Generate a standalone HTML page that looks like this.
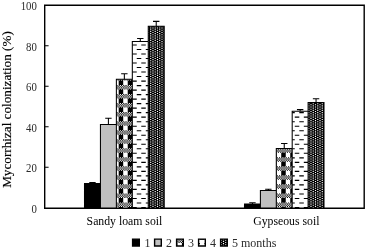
<!DOCTYPE html>
<html><head><meta charset="utf-8">
<style>
html,body{margin:0;padding:0;background:#fff;}
body{width:365px;height:249px;overflow:hidden;position:relative;}
svg{position:absolute;left:0;top:0;filter:grayscale(1);}
text{font-family:"Liberation Serif",serif;}
</style></head>
<body>
<svg width="365" height="249" viewBox="0 0 365 249">
<rect width="365" height="249" fill="#fff"/>
<rect x="84.5" y="183.55" width="15.94" height="24.65" fill="#000"/>
<rect x="100.44" y="124.4" width="15.94" height="83.8" fill="#c0c0c0"/>
<rect x="116.38" y="79.25" width="15.94" height="128.95" fill="#fff"/><path fill="#000" d="M116.43 79.25H117.56V79.38H116.43zM116.38 79.38H116.43V80.5H116.38zM117.56 79.38H118.69V80.5H117.56zM118.69 79.25H119.82V79.38H118.69zM120.95 79.25H122.08V79.38H120.95zM123.2 79.25H124.33V79.38H123.2zM125.46 79.25H126.59V79.38H125.46zM119.82 79.38H120.95V85.02H119.82zM122.08 79.38H123.2V85.02H122.08zM124.33 79.38H125.46V80.5H124.33zM126.59 79.38H127.72V80.5H126.59zM118.69 80.5H119.82V85.02H118.69zM120.95 80.5H122.08V85.02H120.95zM127.72 79.25H128.85V79.38H127.72zM129.98 79.25H131.11V79.38H129.98zM132.24 79.25H132.32V79.38H132.24zM128.85 79.38H129.98V85.02H128.85zM131.11 79.38H132.24V85.02H131.11zM127.72 80.5H128.85V85.02H127.72zM129.98 80.5H131.11V85.02H129.98zM116.43 85.02H117.56V86.15H116.43zM116.38 86.15H116.43V87.28H116.38zM117.56 86.15H118.69V87.28H117.56zM116.43 87.28H117.56V88.41H116.43zM116.38 88.41H116.43V89.53H116.38zM117.56 88.41H118.69V89.53H117.56zM118.69 85.02H119.82V86.15H118.69zM120.95 85.02H122.08V86.15H120.95zM123.2 85.02H124.33V86.15H123.2zM125.46 85.02H126.59V86.15H125.46zM119.82 86.15H120.95V87.28H119.82zM122.08 86.15H123.2V87.28H122.08zM124.33 86.15H125.46V87.28H124.33zM126.59 86.15H127.72V87.28H126.59zM118.69 87.28H119.82V88.41H118.69zM120.95 87.28H122.08V88.41H120.95zM123.2 87.28H124.33V88.41H123.2zM125.46 87.28H126.59V88.41H125.46zM119.82 88.41H120.95V94.05H119.82zM122.08 88.41H123.2V94.05H122.08zM124.33 88.41H125.46V89.53H124.33zM126.59 88.41H127.72V89.53H126.59zM118.69 89.53H119.82V94.05H118.69zM120.95 89.53H122.08V94.05H120.95zM127.72 85.02H128.85V86.15H127.72zM129.98 85.02H131.11V86.15H129.98zM132.24 85.02H132.32V86.15H132.24zM128.85 86.15H129.98V87.28H128.85zM131.11 86.15H132.24V87.28H131.11zM127.72 87.28H128.85V88.41H127.72zM129.98 87.28H131.11V88.41H129.98zM132.24 87.28H132.32V88.41H132.24zM128.85 88.41H129.98V94.05H128.85zM131.11 88.41H132.24V94.05H131.11zM127.72 89.53H128.85V94.05H127.72zM129.98 89.53H131.11V94.05H129.98zM116.43 94.05H117.56V95.18H116.43zM116.38 95.18H116.43V96.31H116.38zM117.56 95.18H118.69V96.31H117.56zM116.43 96.31H117.56V97.44H116.43zM116.38 97.44H116.43V98.56H116.38zM117.56 97.44H118.69V98.56H117.56zM118.69 94.05H119.82V95.18H118.69zM120.95 94.05H122.08V95.18H120.95zM123.2 94.05H124.33V95.18H123.2zM125.46 94.05H126.59V95.18H125.46zM119.82 95.18H120.95V96.31H119.82zM122.08 95.18H123.2V96.31H122.08zM124.33 95.18H125.46V96.31H124.33zM126.59 95.18H127.72V96.31H126.59zM118.69 96.31H119.82V97.44H118.69zM120.95 96.31H122.08V97.44H120.95zM123.2 96.31H124.33V97.44H123.2zM125.46 96.31H126.59V97.44H125.46zM119.82 97.44H120.95V103.08H119.82zM122.08 97.44H123.2V103.08H122.08zM124.33 97.44H125.46V98.56H124.33zM126.59 97.44H127.72V98.56H126.59zM118.69 98.56H119.82V103.08H118.69zM120.95 98.56H122.08V103.08H120.95zM127.72 94.05H128.85V95.18H127.72zM129.98 94.05H131.11V95.18H129.98zM132.24 94.05H132.32V95.18H132.24zM128.85 95.18H129.98V96.31H128.85zM131.11 95.18H132.24V96.31H131.11zM127.72 96.31H128.85V97.44H127.72zM129.98 96.31H131.11V97.44H129.98zM132.24 96.31H132.32V97.44H132.24zM128.85 97.44H129.98V103.08H128.85zM131.11 97.44H132.24V103.08H131.11zM127.72 98.56H128.85V103.08H127.72zM129.98 98.56H131.11V103.08H129.98zM116.43 103.08H117.56V104.21H116.43zM116.38 104.21H116.43V105.34H116.38zM117.56 104.21H118.69V105.34H117.56zM116.43 105.34H117.56V106.47H116.43zM116.38 106.47H116.43V107.59H116.38zM117.56 106.47H118.69V107.59H117.56zM118.69 103.08H119.82V104.21H118.69zM120.95 103.08H122.08V104.21H120.95zM123.2 103.08H124.33V104.21H123.2zM125.46 103.08H126.59V104.21H125.46zM119.82 104.21H120.95V105.34H119.82zM122.08 104.21H123.2V105.34H122.08zM124.33 104.21H125.46V105.34H124.33zM126.59 104.21H127.72V105.34H126.59zM118.69 105.34H119.82V106.47H118.69zM120.95 105.34H122.08V106.47H120.95zM123.2 105.34H124.33V106.47H123.2zM125.46 105.34H126.59V106.47H125.46zM119.82 106.47H120.95V112.11H119.82zM122.08 106.47H123.2V112.11H122.08zM124.33 106.47H125.46V107.59H124.33zM126.59 106.47H127.72V107.59H126.59zM118.69 107.59H119.82V112.11H118.69zM120.95 107.59H122.08V112.11H120.95zM127.72 103.08H128.85V104.21H127.72zM129.98 103.08H131.11V104.21H129.98zM132.24 103.08H132.32V104.21H132.24zM128.85 104.21H129.98V105.34H128.85zM131.11 104.21H132.24V105.34H131.11zM127.72 105.34H128.85V106.47H127.72zM129.98 105.34H131.11V106.47H129.98zM132.24 105.34H132.32V106.47H132.24zM128.85 106.47H129.98V112.11H128.85zM131.11 106.47H132.24V112.11H131.11zM127.72 107.59H128.85V112.11H127.72zM129.98 107.59H131.11V112.11H129.98zM116.43 112.11H117.56V113.24H116.43zM116.38 113.24H116.43V114.37H116.38zM117.56 113.24H118.69V114.37H117.56zM116.43 114.37H117.56V115.5H116.43zM116.38 115.5H116.43V116.62H116.38zM117.56 115.5H118.69V116.62H117.56zM118.69 112.11H119.82V113.24H118.69zM120.95 112.11H122.08V113.24H120.95zM123.2 112.11H124.33V113.24H123.2zM125.46 112.11H126.59V113.24H125.46zM119.82 113.24H120.95V114.37H119.82zM122.08 113.24H123.2V114.37H122.08zM124.33 113.24H125.46V114.37H124.33zM126.59 113.24H127.72V114.37H126.59zM118.69 114.37H119.82V115.5H118.69zM120.95 114.37H122.08V115.5H120.95zM123.2 114.37H124.33V115.5H123.2zM125.46 114.37H126.59V115.5H125.46zM119.82 115.5H120.95V121.14H119.82zM122.08 115.5H123.2V121.14H122.08zM124.33 115.5H125.46V116.62H124.33zM126.59 115.5H127.72V116.62H126.59zM118.69 116.62H119.82V121.14H118.69zM120.95 116.62H122.08V121.14H120.95zM127.72 112.11H128.85V113.24H127.72zM129.98 112.11H131.11V113.24H129.98zM132.24 112.11H132.32V113.24H132.24zM128.85 113.24H129.98V114.37H128.85zM131.11 113.24H132.24V114.37H131.11zM127.72 114.37H128.85V115.5H127.72zM129.98 114.37H131.11V115.5H129.98zM132.24 114.37H132.32V115.5H132.24zM128.85 115.5H129.98V121.14H128.85zM131.11 115.5H132.24V121.14H131.11zM127.72 116.62H128.85V121.14H127.72zM129.98 116.62H131.11V121.14H129.98zM116.43 121.14H117.56V122.27H116.43zM116.38 122.27H116.43V123.4H116.38zM117.56 122.27H118.69V123.4H117.56zM116.43 123.4H117.56V124.53H116.43zM116.38 124.53H116.43V125.65H116.38zM117.56 124.53H118.69V125.65H117.56zM118.69 121.14H119.82V122.27H118.69zM120.95 121.14H122.08V122.27H120.95zM123.2 121.14H124.33V122.27H123.2zM125.46 121.14H126.59V122.27H125.46zM119.82 122.27H120.95V123.4H119.82zM122.08 122.27H123.2V123.4H122.08zM124.33 122.27H125.46V123.4H124.33zM126.59 122.27H127.72V123.4H126.59zM118.69 123.4H119.82V124.53H118.69zM120.95 123.4H122.08V124.53H120.95zM123.2 123.4H124.33V124.53H123.2zM125.46 123.4H126.59V124.53H125.46zM119.82 124.53H120.95V130.17H119.82zM122.08 124.53H123.2V130.17H122.08zM124.33 124.53H125.46V125.65H124.33zM126.59 124.53H127.72V125.65H126.59zM118.69 125.65H119.82V130.17H118.69zM120.95 125.65H122.08V130.17H120.95zM127.72 121.14H128.85V122.27H127.72zM129.98 121.14H131.11V122.27H129.98zM132.24 121.14H132.32V122.27H132.24zM128.85 122.27H129.98V123.4H128.85zM131.11 122.27H132.24V123.4H131.11zM127.72 123.4H128.85V124.53H127.72zM129.98 123.4H131.11V124.53H129.98zM132.24 123.4H132.32V124.53H132.24zM128.85 124.53H129.98V130.17H128.85zM131.11 124.53H132.24V130.17H131.11zM127.72 125.65H128.85V130.17H127.72zM129.98 125.65H131.11V130.17H129.98zM116.43 130.17H117.56V131.3H116.43zM116.38 131.3H116.43V132.43H116.38zM117.56 131.3H118.69V132.43H117.56zM116.43 132.43H117.56V133.56H116.43zM116.38 133.56H116.43V134.69H116.38zM117.56 133.56H118.69V134.69H117.56zM118.69 130.17H119.82V131.3H118.69zM120.95 130.17H122.08V131.3H120.95zM123.2 130.17H124.33V131.3H123.2zM125.46 130.17H126.59V131.3H125.46zM119.82 131.3H120.95V132.43H119.82zM122.08 131.3H123.2V132.43H122.08zM124.33 131.3H125.46V132.43H124.33zM126.59 131.3H127.72V132.43H126.59zM118.69 132.43H119.82V133.56H118.69zM120.95 132.43H122.08V133.56H120.95zM123.2 132.43H124.33V133.56H123.2zM125.46 132.43H126.59V133.56H125.46zM119.82 133.56H120.95V139.2H119.82zM122.08 133.56H123.2V139.2H122.08zM124.33 133.56H125.46V134.69H124.33zM126.59 133.56H127.72V134.69H126.59zM118.69 134.69H119.82V139.2H118.69zM120.95 134.69H122.08V139.2H120.95zM127.72 130.17H128.85V131.3H127.72zM129.98 130.17H131.11V131.3H129.98zM132.24 130.17H132.32V131.3H132.24zM128.85 131.3H129.98V132.43H128.85zM131.11 131.3H132.24V132.43H131.11zM127.72 132.43H128.85V133.56H127.72zM129.98 132.43H131.11V133.56H129.98zM132.24 132.43H132.32V133.56H132.24zM128.85 133.56H129.98V139.2H128.85zM131.11 133.56H132.24V139.2H131.11zM127.72 134.69H128.85V139.2H127.72zM129.98 134.69H131.11V139.2H129.98zM116.43 139.2H117.56V140.33H116.43zM116.38 140.33H116.43V141.46H116.38zM117.56 140.33H118.69V141.46H117.56zM116.43 141.46H117.56V142.59H116.43zM116.38 142.59H116.43V143.72H116.38zM117.56 142.59H118.69V143.72H117.56zM118.69 139.2H119.82V140.33H118.69zM120.95 139.2H122.08V140.33H120.95zM123.2 139.2H124.33V140.33H123.2zM125.46 139.2H126.59V140.33H125.46zM119.82 140.33H120.95V141.46H119.82zM122.08 140.33H123.2V141.46H122.08zM124.33 140.33H125.46V141.46H124.33zM126.59 140.33H127.72V141.46H126.59zM118.69 141.46H119.82V142.59H118.69zM120.95 141.46H122.08V142.59H120.95zM123.2 141.46H124.33V142.59H123.2zM125.46 141.46H126.59V142.59H125.46zM119.82 142.59H120.95V148.23H119.82zM122.08 142.59H123.2V148.23H122.08zM124.33 142.59H125.46V143.72H124.33zM126.59 142.59H127.72V143.72H126.59zM118.69 143.72H119.82V148.23H118.69zM120.95 143.72H122.08V148.23H120.95zM127.72 139.2H128.85V140.33H127.72zM129.98 139.2H131.11V140.33H129.98zM132.24 139.2H132.32V140.33H132.24zM128.85 140.33H129.98V141.46H128.85zM131.11 140.33H132.24V141.46H131.11zM127.72 141.46H128.85V142.59H127.72zM129.98 141.46H131.11V142.59H129.98zM132.24 141.46H132.32V142.59H132.24zM128.85 142.59H129.98V148.23H128.85zM131.11 142.59H132.24V148.23H131.11zM127.72 143.72H128.85V148.23H127.72zM129.98 143.72H131.11V148.23H129.98zM116.43 148.23H117.56V149.36H116.43zM116.38 149.36H116.43V150.49H116.38zM117.56 149.36H118.69V150.49H117.56zM116.43 150.49H117.56V151.62H116.43zM116.38 151.62H116.43V152.74H116.38zM117.56 151.62H118.69V152.74H117.56zM118.69 148.23H119.82V149.36H118.69zM120.95 148.23H122.08V149.36H120.95zM123.2 148.23H124.33V149.36H123.2zM125.46 148.23H126.59V149.36H125.46zM119.82 149.36H120.95V150.49H119.82zM122.08 149.36H123.2V150.49H122.08zM124.33 149.36H125.46V150.49H124.33zM126.59 149.36H127.72V150.49H126.59zM118.69 150.49H119.82V151.62H118.69zM120.95 150.49H122.08V151.62H120.95zM123.2 150.49H124.33V151.62H123.2zM125.46 150.49H126.59V151.62H125.46zM119.82 151.62H120.95V157.26H119.82zM122.08 151.62H123.2V157.26H122.08zM124.33 151.62H125.46V152.74H124.33zM126.59 151.62H127.72V152.74H126.59zM118.69 152.74H119.82V157.26H118.69zM120.95 152.74H122.08V157.26H120.95zM127.72 148.23H128.85V149.36H127.72zM129.98 148.23H131.11V149.36H129.98zM132.24 148.23H132.32V149.36H132.24zM128.85 149.36H129.98V150.49H128.85zM131.11 149.36H132.24V150.49H131.11zM127.72 150.49H128.85V151.62H127.72zM129.98 150.49H131.11V151.62H129.98zM132.24 150.49H132.32V151.62H132.24zM128.85 151.62H129.98V157.26H128.85zM131.11 151.62H132.24V157.26H131.11zM127.72 152.74H128.85V157.26H127.72zM129.98 152.74H131.11V157.26H129.98zM116.43 157.26H117.56V158.39H116.43zM116.38 158.39H116.43V159.52H116.38zM117.56 158.39H118.69V159.52H117.56zM116.43 159.52H117.56V160.65H116.43zM116.38 160.65H116.43V161.77H116.38zM117.56 160.65H118.69V161.77H117.56zM118.69 157.26H119.82V158.39H118.69zM120.95 157.26H122.08V158.39H120.95zM123.2 157.26H124.33V158.39H123.2zM125.46 157.26H126.59V158.39H125.46zM119.82 158.39H120.95V159.52H119.82zM122.08 158.39H123.2V159.52H122.08zM124.33 158.39H125.46V159.52H124.33zM126.59 158.39H127.72V159.52H126.59zM118.69 159.52H119.82V160.65H118.69zM120.95 159.52H122.08V160.65H120.95zM123.2 159.52H124.33V160.65H123.2zM125.46 159.52H126.59V160.65H125.46zM119.82 160.65H120.95V166.29H119.82zM122.08 160.65H123.2V166.29H122.08zM124.33 160.65H125.46V161.77H124.33zM126.59 160.65H127.72V161.77H126.59zM118.69 161.77H119.82V166.29H118.69zM120.95 161.77H122.08V166.29H120.95zM127.72 157.26H128.85V158.39H127.72zM129.98 157.26H131.11V158.39H129.98zM132.24 157.26H132.32V158.39H132.24zM128.85 158.39H129.98V159.52H128.85zM131.11 158.39H132.24V159.52H131.11zM127.72 159.52H128.85V160.65H127.72zM129.98 159.52H131.11V160.65H129.98zM132.24 159.52H132.32V160.65H132.24zM128.85 160.65H129.98V166.29H128.85zM131.11 160.65H132.24V166.29H131.11zM127.72 161.77H128.85V166.29H127.72zM129.98 161.77H131.11V166.29H129.98zM116.43 166.29H117.56V167.42H116.43zM116.38 167.42H116.43V168.55H116.38zM117.56 167.42H118.69V168.55H117.56zM116.43 168.55H117.56V169.68H116.43zM116.38 169.68H116.43V170.8H116.38zM117.56 169.68H118.69V170.8H117.56zM118.69 166.29H119.82V167.42H118.69zM120.95 166.29H122.08V167.42H120.95zM123.2 166.29H124.33V167.42H123.2zM125.46 166.29H126.59V167.42H125.46zM119.82 167.42H120.95V168.55H119.82zM122.08 167.42H123.2V168.55H122.08zM124.33 167.42H125.46V168.55H124.33zM126.59 167.42H127.72V168.55H126.59zM118.69 168.55H119.82V169.68H118.69zM120.95 168.55H122.08V169.68H120.95zM123.2 168.55H124.33V169.68H123.2zM125.46 168.55H126.59V169.68H125.46zM119.82 169.68H120.95V175.32H119.82zM122.08 169.68H123.2V175.32H122.08zM124.33 169.68H125.46V170.8H124.33zM126.59 169.68H127.72V170.8H126.59zM118.69 170.8H119.82V175.32H118.69zM120.95 170.8H122.08V175.32H120.95zM127.72 166.29H128.85V167.42H127.72zM129.98 166.29H131.11V167.42H129.98zM132.24 166.29H132.32V167.42H132.24zM128.85 167.42H129.98V168.55H128.85zM131.11 167.42H132.24V168.55H131.11zM127.72 168.55H128.85V169.68H127.72zM129.98 168.55H131.11V169.68H129.98zM132.24 168.55H132.32V169.68H132.24zM128.85 169.68H129.98V175.32H128.85zM131.11 169.68H132.24V175.32H131.11zM127.72 170.8H128.85V175.32H127.72zM129.98 170.8H131.11V175.32H129.98zM116.43 175.32H117.56V176.45H116.43zM116.38 176.45H116.43V177.58H116.38zM117.56 176.45H118.69V177.58H117.56zM116.43 177.58H117.56V178.71H116.43zM116.38 178.71H116.43V179.83H116.38zM117.56 178.71H118.69V179.83H117.56zM118.69 175.32H119.82V176.45H118.69zM120.95 175.32H122.08V176.45H120.95zM123.2 175.32H124.33V176.45H123.2zM125.46 175.32H126.59V176.45H125.46zM119.82 176.45H120.95V177.58H119.82zM122.08 176.45H123.2V177.58H122.08zM124.33 176.45H125.46V177.58H124.33zM126.59 176.45H127.72V177.58H126.59zM118.69 177.58H119.82V178.71H118.69zM120.95 177.58H122.08V178.71H120.95zM123.2 177.58H124.33V178.71H123.2zM125.46 177.58H126.59V178.71H125.46zM119.82 178.71H120.95V184.35H119.82zM122.08 178.71H123.2V184.35H122.08zM124.33 178.71H125.46V179.83H124.33zM126.59 178.71H127.72V179.83H126.59zM118.69 179.83H119.82V184.35H118.69zM120.95 179.83H122.08V184.35H120.95zM127.72 175.32H128.85V176.45H127.72zM129.98 175.32H131.11V176.45H129.98zM132.24 175.32H132.32V176.45H132.24zM128.85 176.45H129.98V177.58H128.85zM131.11 176.45H132.24V177.58H131.11zM127.72 177.58H128.85V178.71H127.72zM129.98 177.58H131.11V178.71H129.98zM132.24 177.58H132.32V178.71H132.24zM128.85 178.71H129.98V184.35H128.85zM131.11 178.71H132.24V184.35H131.11zM127.72 179.83H128.85V184.35H127.72zM129.98 179.83H131.11V184.35H129.98zM116.43 184.35H117.56V185.48H116.43zM116.38 185.48H116.43V186.61H116.38zM117.56 185.48H118.69V186.61H117.56zM116.43 186.61H117.56V187.74H116.43zM116.38 187.74H116.43V188.86H116.38zM117.56 187.74H118.69V188.86H117.56zM118.69 184.35H119.82V185.48H118.69zM120.95 184.35H122.08V185.48H120.95zM123.2 184.35H124.33V185.48H123.2zM125.46 184.35H126.59V185.48H125.46zM119.82 185.48H120.95V186.61H119.82zM122.08 185.48H123.2V186.61H122.08zM124.33 185.48H125.46V186.61H124.33zM126.59 185.48H127.72V186.61H126.59zM118.69 186.61H119.82V187.74H118.69zM120.95 186.61H122.08V187.74H120.95zM123.2 186.61H124.33V187.74H123.2zM125.46 186.61H126.59V187.74H125.46zM119.82 187.74H120.95V193.38H119.82zM122.08 187.74H123.2V193.38H122.08zM124.33 187.74H125.46V188.86H124.33zM126.59 187.74H127.72V188.86H126.59zM118.69 188.86H119.82V193.38H118.69zM120.95 188.86H122.08V193.38H120.95zM127.72 184.35H128.85V185.48H127.72zM129.98 184.35H131.11V185.48H129.98zM132.24 184.35H132.32V185.48H132.24zM128.85 185.48H129.98V186.61H128.85zM131.11 185.48H132.24V186.61H131.11zM127.72 186.61H128.85V187.74H127.72zM129.98 186.61H131.11V187.74H129.98zM132.24 186.61H132.32V187.74H132.24zM128.85 187.74H129.98V193.38H128.85zM131.11 187.74H132.24V193.38H131.11zM127.72 188.86H128.85V193.38H127.72zM129.98 188.86H131.11V193.38H129.98zM116.43 193.38H117.56V194.51H116.43zM116.38 194.51H116.43V195.64H116.38zM117.56 194.51H118.69V195.64H117.56zM116.43 195.64H117.56V196.77H116.43zM116.38 196.77H116.43V197.89H116.38zM117.56 196.77H118.69V197.89H117.56zM118.69 193.38H119.82V194.51H118.69zM120.95 193.38H122.08V194.51H120.95zM123.2 193.38H124.33V194.51H123.2zM125.46 193.38H126.59V194.51H125.46zM119.82 194.51H120.95V195.64H119.82zM122.08 194.51H123.2V195.64H122.08zM124.33 194.51H125.46V195.64H124.33zM126.59 194.51H127.72V195.64H126.59zM118.69 195.64H119.82V196.77H118.69zM120.95 195.64H122.08V196.77H120.95zM123.2 195.64H124.33V196.77H123.2zM125.46 195.64H126.59V196.77H125.46zM119.82 196.77H120.95V202.41H119.82zM122.08 196.77H123.2V202.41H122.08zM124.33 196.77H125.46V197.89H124.33zM126.59 196.77H127.72V197.89H126.59zM118.69 197.89H119.82V202.41H118.69zM120.95 197.89H122.08V202.41H120.95zM127.72 193.38H128.85V194.51H127.72zM129.98 193.38H131.11V194.51H129.98zM132.24 193.38H132.32V194.51H132.24zM128.85 194.51H129.98V195.64H128.85zM131.11 194.51H132.24V195.64H131.11zM127.72 195.64H128.85V196.77H127.72zM129.98 195.64H131.11V196.77H129.98zM132.24 195.64H132.32V196.77H132.24zM128.85 196.77H129.98V202.41H128.85zM131.11 196.77H132.24V202.41H131.11zM127.72 197.89H128.85V202.41H127.72zM129.98 197.89H131.11V202.41H129.98zM116.43 202.41H117.56V203.54H116.43zM116.38 203.54H116.43V204.67H116.38zM117.56 203.54H118.69V204.67H117.56zM116.43 204.67H117.56V205.8H116.43zM116.38 205.8H116.43V206.92H116.38zM117.56 205.8H118.69V206.92H117.56zM118.69 202.41H119.82V203.54H118.69zM120.95 202.41H122.08V203.54H120.95zM123.2 202.41H124.33V203.54H123.2zM125.46 202.41H126.59V203.54H125.46zM119.82 203.54H120.95V204.67H119.82zM122.08 203.54H123.2V204.67H122.08zM124.33 203.54H125.46V204.67H124.33zM126.59 203.54H127.72V204.67H126.59zM118.69 204.67H119.82V205.8H118.69zM120.95 204.67H122.08V205.8H120.95zM123.2 204.67H124.33V205.8H123.2zM125.46 204.67H126.59V205.8H125.46zM119.82 205.8H120.95V208.2H119.82zM122.08 205.8H123.2V208.2H122.08zM124.33 205.8H125.46V206.92H124.33zM126.59 205.8H127.72V206.92H126.59zM118.69 206.92H119.82V208.2H118.69zM120.95 206.92H122.08V208.2H120.95zM127.72 202.41H128.85V203.54H127.72zM129.98 202.41H131.11V203.54H129.98zM132.24 202.41H132.32V203.54H132.24zM128.85 203.54H129.98V204.67H128.85zM131.11 203.54H132.24V204.67H131.11zM127.72 204.67H128.85V205.8H127.72zM129.98 204.67H131.11V205.8H129.98zM132.24 204.67H132.32V205.8H132.24zM128.85 205.8H129.98V208.2H128.85zM131.11 205.8H132.24V208.2H131.11zM127.72 206.92H128.85V208.2H127.72zM129.98 206.92H131.11V208.2H129.98z"/>
<rect x="132.32" y="41.5" width="15.94" height="166.7" fill="#fff"/><path fill="#000" d="M132.32 44.38H136.75V45.51H132.32zM141.27 44.38H145.78V45.51H141.27zM132.32 53.41H136.75V54.54H132.32zM136.75 48.9H141.27V50.03H136.75zM141.27 53.41H145.78V54.54H141.27zM145.78 48.9H148.26V50.03H145.78zM132.32 62.44H136.75V63.57H132.32zM136.75 57.93H141.27V59.06H136.75zM141.27 62.44H145.78V63.57H141.27zM145.78 57.93H148.26V59.06H145.78zM132.32 71.47H136.75V72.6H132.32zM136.75 66.96H141.27V68.09H136.75zM141.27 71.47H145.78V72.6H141.27zM145.78 66.96H148.26V68.09H145.78zM132.32 80.5H136.75V81.63H132.32zM136.75 75.99H141.27V77.12H136.75zM141.27 80.5H145.78V81.63H141.27zM145.78 75.99H148.26V77.12H145.78zM132.32 89.53H136.75V90.66H132.32zM136.75 85.02H141.27V86.15H136.75zM141.27 89.53H145.78V90.66H141.27zM145.78 85.02H148.26V86.15H145.78zM132.32 98.56H136.75V99.69H132.32zM136.75 94.05H141.27V95.18H136.75zM141.27 98.56H145.78V99.69H141.27zM145.78 94.05H148.26V95.18H145.78zM132.32 107.59H136.75V108.72H132.32zM136.75 103.08H141.27V104.21H136.75zM141.27 107.59H145.78V108.72H141.27zM145.78 103.08H148.26V104.21H145.78zM132.32 116.62H136.75V117.75H132.32zM136.75 112.11H141.27V113.24H136.75zM141.27 116.62H145.78V117.75H141.27zM145.78 112.11H148.26V113.24H145.78zM132.32 125.65H136.75V126.78H132.32zM136.75 121.14H141.27V122.27H136.75zM141.27 125.65H145.78V126.78H141.27zM145.78 121.14H148.26V122.27H145.78zM132.32 134.69H136.75V135.81H132.32zM136.75 130.17H141.27V131.3H136.75zM141.27 134.69H145.78V135.81H141.27zM145.78 130.17H148.26V131.3H145.78zM132.32 143.72H136.75V144.84H132.32zM136.75 139.2H141.27V140.33H136.75zM141.27 143.72H145.78V144.84H141.27zM145.78 139.2H148.26V140.33H145.78zM132.32 152.74H136.75V153.87H132.32zM136.75 148.23H141.27V149.36H136.75zM141.27 152.74H145.78V153.87H141.27zM145.78 148.23H148.26V149.36H145.78zM132.32 161.77H136.75V162.9H132.32zM136.75 157.26H141.27V158.39H136.75zM141.27 161.77H145.78V162.9H141.27zM145.78 157.26H148.26V158.39H145.78zM132.32 170.8H136.75V171.93H132.32zM136.75 166.29H141.27V167.42H136.75zM141.27 170.8H145.78V171.93H141.27zM145.78 166.29H148.26V167.42H145.78zM132.32 179.83H136.75V180.96H132.32zM136.75 175.32H141.27V176.45H136.75zM141.27 179.83H145.78V180.96H141.27zM145.78 175.32H148.26V176.45H145.78zM132.32 188.86H136.75V189.99H132.32zM136.75 184.35H141.27V185.48H136.75zM141.27 188.86H145.78V189.99H141.27zM145.78 184.35H148.26V185.48H145.78zM132.32 197.89H136.75V199.02H132.32zM136.75 193.38H141.27V194.51H136.75zM141.27 197.89H145.78V199.02H141.27zM145.78 193.38H148.26V194.51H145.78zM132.32 206.92H136.75V208.05H132.32zM136.75 202.41H141.27V203.54H136.75zM141.27 206.92H145.78V208.05H141.27zM145.78 202.41H148.26V203.54H145.78z"/>
<rect x="148.26" y="26.2" width="15.94" height="182" fill="#000"/><path fill="#fff" d="M148.26 26.2H149.02V26.32H148.26zM152.4 26.2H153.53V26.32H152.4zM150.14 26.32H151.27V27.45H150.14zM148.26 27.45H149.02V28.58H148.26zM152.4 27.45H153.53V28.58H152.4zM150.14 28.58H151.27V29.71H150.14zM148.26 29.71H149.02V30.84H148.26zM152.4 29.71H153.53V30.84H152.4zM156.92 26.2H158.05V26.32H156.92zM161.43 26.2H162.56V26.32H161.43zM154.66 26.32H155.79V27.45H154.66zM159.17 26.32H160.3V27.45H159.17zM156.92 27.45H158.05V28.58H156.92zM161.43 27.45H162.56V28.58H161.43zM154.66 28.58H155.79V29.71H154.66zM159.17 28.58H160.3V29.71H159.17zM156.92 29.71H158.05V30.84H156.92zM161.43 29.71H162.56V30.84H161.43zM163.69 26.32H164.2V27.45H163.69zM163.69 28.58H164.2V29.71H163.69zM150.14 30.84H151.27V31.97H150.14zM148.26 31.97H149.02V33.1H148.26zM152.4 31.97H153.53V33.1H152.4zM150.14 33.1H151.27V34.23H150.14zM148.26 34.23H149.02V35.35H148.26zM152.4 34.23H153.53V35.35H152.4zM150.14 35.35H151.27V36.48H150.14zM148.26 36.48H149.02V37.61H148.26zM152.4 36.48H153.53V37.61H152.4zM150.14 37.61H151.27V38.74H150.14zM148.26 38.74H149.02V39.87H148.26zM152.4 38.74H153.53V39.87H152.4zM154.66 30.84H155.79V31.97H154.66zM159.17 30.84H160.3V31.97H159.17zM156.92 31.97H158.05V33.1H156.92zM161.43 31.97H162.56V33.1H161.43zM154.66 33.1H155.79V34.23H154.66zM159.17 33.1H160.3V34.23H159.17zM156.92 34.23H158.05V35.35H156.92zM161.43 34.23H162.56V35.35H161.43zM154.66 35.35H155.79V36.48H154.66zM159.17 35.35H160.3V36.48H159.17zM156.92 36.48H158.05V37.61H156.92zM161.43 36.48H162.56V37.61H161.43zM154.66 37.61H155.79V38.74H154.66zM159.17 37.61H160.3V38.74H159.17zM156.92 38.74H158.05V39.87H156.92zM161.43 38.74H162.56V39.87H161.43zM163.69 30.84H164.2V31.97H163.69zM163.69 33.1H164.2V34.23H163.69zM163.69 35.35H164.2V36.48H163.69zM163.69 37.61H164.2V38.74H163.69zM150.14 39.87H151.27V41H150.14zM148.26 41H149.02V42.13H148.26zM152.4 41H153.53V42.13H152.4zM150.14 42.13H151.27V43.26H150.14zM148.26 43.26H149.02V44.38H148.26zM152.4 43.26H153.53V44.38H152.4zM150.14 44.38H151.27V45.51H150.14zM148.26 45.51H149.02V46.64H148.26zM152.4 45.51H153.53V46.64H152.4zM150.14 46.64H151.27V47.77H150.14zM148.26 47.77H149.02V48.9H148.26zM152.4 47.77H153.53V48.9H152.4zM154.66 39.87H155.79V41H154.66zM159.17 39.87H160.3V41H159.17zM156.92 41H158.05V42.13H156.92zM161.43 41H162.56V42.13H161.43zM154.66 42.13H155.79V43.26H154.66zM159.17 42.13H160.3V43.26H159.17zM156.92 43.26H158.05V44.38H156.92zM161.43 43.26H162.56V44.38H161.43zM154.66 44.38H155.79V45.51H154.66zM159.17 44.38H160.3V45.51H159.17zM156.92 45.51H158.05V46.64H156.92zM161.43 45.51H162.56V46.64H161.43zM154.66 46.64H155.79V47.77H154.66zM159.17 46.64H160.3V47.77H159.17zM156.92 47.77H158.05V48.9H156.92zM161.43 47.77H162.56V48.9H161.43zM163.69 39.87H164.2V41H163.69zM163.69 42.13H164.2V43.26H163.69zM163.69 44.38H164.2V45.51H163.69zM163.69 46.64H164.2V47.77H163.69zM150.14 48.9H151.27V50.03H150.14zM148.26 50.03H149.02V51.16H148.26zM152.4 50.03H153.53V51.16H152.4zM150.14 51.16H151.27V52.29H150.14zM148.26 52.29H149.02V53.41H148.26zM152.4 52.29H153.53V53.41H152.4zM150.14 53.41H151.27V54.54H150.14zM148.26 54.54H149.02V55.67H148.26zM152.4 54.54H153.53V55.67H152.4zM150.14 55.67H151.27V56.8H150.14zM148.26 56.8H149.02V57.93H148.26zM152.4 56.8H153.53V57.93H152.4zM154.66 48.9H155.79V50.03H154.66zM159.17 48.9H160.3V50.03H159.17zM156.92 50.03H158.05V51.16H156.92zM161.43 50.03H162.56V51.16H161.43zM154.66 51.16H155.79V52.29H154.66zM159.17 51.16H160.3V52.29H159.17zM156.92 52.29H158.05V53.41H156.92zM161.43 52.29H162.56V53.41H161.43zM154.66 53.41H155.79V54.54H154.66zM159.17 53.41H160.3V54.54H159.17zM156.92 54.54H158.05V55.67H156.92zM161.43 54.54H162.56V55.67H161.43zM154.66 55.67H155.79V56.8H154.66zM159.17 55.67H160.3V56.8H159.17zM156.92 56.8H158.05V57.93H156.92zM161.43 56.8H162.56V57.93H161.43zM163.69 48.9H164.2V50.03H163.69zM163.69 51.16H164.2V52.29H163.69zM163.69 53.41H164.2V54.54H163.69zM163.69 55.67H164.2V56.8H163.69zM150.14 57.93H151.27V59.06H150.14zM148.26 59.06H149.02V60.19H148.26zM152.4 59.06H153.53V60.19H152.4zM150.14 60.19H151.27V61.32H150.14zM148.26 61.32H149.02V62.44H148.26zM152.4 61.32H153.53V62.44H152.4zM150.14 62.44H151.27V63.57H150.14zM148.26 63.57H149.02V64.7H148.26zM152.4 63.57H153.53V64.7H152.4zM150.14 64.7H151.27V65.83H150.14zM148.26 65.83H149.02V66.96H148.26zM152.4 65.83H153.53V66.96H152.4zM154.66 57.93H155.79V59.06H154.66zM159.17 57.93H160.3V59.06H159.17zM156.92 59.06H158.05V60.19H156.92zM161.43 59.06H162.56V60.19H161.43zM154.66 60.19H155.79V61.32H154.66zM159.17 60.19H160.3V61.32H159.17zM156.92 61.32H158.05V62.44H156.92zM161.43 61.32H162.56V62.44H161.43zM154.66 62.44H155.79V63.57H154.66zM159.17 62.44H160.3V63.57H159.17zM156.92 63.57H158.05V64.7H156.92zM161.43 63.57H162.56V64.7H161.43zM154.66 64.7H155.79V65.83H154.66zM159.17 64.7H160.3V65.83H159.17zM156.92 65.83H158.05V66.96H156.92zM161.43 65.83H162.56V66.96H161.43zM163.69 57.93H164.2V59.06H163.69zM163.69 60.19H164.2V61.32H163.69zM163.69 62.44H164.2V63.57H163.69zM163.69 64.7H164.2V65.83H163.69zM150.14 66.96H151.27V68.09H150.14zM148.26 68.09H149.02V69.22H148.26zM152.4 68.09H153.53V69.22H152.4zM150.14 69.22H151.27V70.35H150.14zM148.26 70.35H149.02V71.47H148.26zM152.4 70.35H153.53V71.47H152.4zM150.14 71.47H151.27V72.6H150.14zM148.26 72.6H149.02V73.73H148.26zM152.4 72.6H153.53V73.73H152.4zM150.14 73.73H151.27V74.86H150.14zM148.26 74.86H149.02V75.99H148.26zM152.4 74.86H153.53V75.99H152.4zM154.66 66.96H155.79V68.09H154.66zM159.17 66.96H160.3V68.09H159.17zM156.92 68.09H158.05V69.22H156.92zM161.43 68.09H162.56V69.22H161.43zM154.66 69.22H155.79V70.35H154.66zM159.17 69.22H160.3V70.35H159.17zM156.92 70.35H158.05V71.47H156.92zM161.43 70.35H162.56V71.47H161.43zM154.66 71.47H155.79V72.6H154.66zM159.17 71.47H160.3V72.6H159.17zM156.92 72.6H158.05V73.73H156.92zM161.43 72.6H162.56V73.73H161.43zM154.66 73.73H155.79V74.86H154.66zM159.17 73.73H160.3V74.86H159.17zM156.92 74.86H158.05V75.99H156.92zM161.43 74.86H162.56V75.99H161.43zM163.69 66.96H164.2V68.09H163.69zM163.69 69.22H164.2V70.35H163.69zM163.69 71.47H164.2V72.6H163.69zM163.69 73.73H164.2V74.86H163.69zM150.14 75.99H151.27V77.12H150.14zM148.26 77.12H149.02V78.25H148.26zM152.4 77.12H153.53V78.25H152.4zM150.14 78.25H151.27V79.38H150.14zM148.26 79.38H149.02V80.5H148.26zM152.4 79.38H153.53V80.5H152.4zM150.14 80.5H151.27V81.63H150.14zM148.26 81.63H149.02V82.76H148.26zM152.4 81.63H153.53V82.76H152.4zM150.14 82.76H151.27V83.89H150.14zM148.26 83.89H149.02V85.02H148.26zM152.4 83.89H153.53V85.02H152.4zM154.66 75.99H155.79V77.12H154.66zM159.17 75.99H160.3V77.12H159.17zM156.92 77.12H158.05V78.25H156.92zM161.43 77.12H162.56V78.25H161.43zM154.66 78.25H155.79V79.38H154.66zM159.17 78.25H160.3V79.38H159.17zM156.92 79.38H158.05V80.5H156.92zM161.43 79.38H162.56V80.5H161.43zM154.66 80.5H155.79V81.63H154.66zM159.17 80.5H160.3V81.63H159.17zM156.92 81.63H158.05V82.76H156.92zM161.43 81.63H162.56V82.76H161.43zM154.66 82.76H155.79V83.89H154.66zM159.17 82.76H160.3V83.89H159.17zM156.92 83.89H158.05V85.02H156.92zM161.43 83.89H162.56V85.02H161.43zM163.69 75.99H164.2V77.12H163.69zM163.69 78.25H164.2V79.38H163.69zM163.69 80.5H164.2V81.63H163.69zM163.69 82.76H164.2V83.89H163.69zM150.14 85.02H151.27V86.15H150.14zM148.26 86.15H149.02V87.28H148.26zM152.4 86.15H153.53V87.28H152.4zM150.14 87.28H151.27V88.41H150.14zM148.26 88.41H149.02V89.53H148.26zM152.4 88.41H153.53V89.53H152.4zM150.14 89.53H151.27V90.66H150.14zM148.26 90.66H149.02V91.79H148.26zM152.4 90.66H153.53V91.79H152.4zM150.14 91.79H151.27V92.92H150.14zM148.26 92.92H149.02V94.05H148.26zM152.4 92.92H153.53V94.05H152.4zM154.66 85.02H155.79V86.15H154.66zM159.17 85.02H160.3V86.15H159.17zM156.92 86.15H158.05V87.28H156.92zM161.43 86.15H162.56V87.28H161.43zM154.66 87.28H155.79V88.41H154.66zM159.17 87.28H160.3V88.41H159.17zM156.92 88.41H158.05V89.53H156.92zM161.43 88.41H162.56V89.53H161.43zM154.66 89.53H155.79V90.66H154.66zM159.17 89.53H160.3V90.66H159.17zM156.92 90.66H158.05V91.79H156.92zM161.43 90.66H162.56V91.79H161.43zM154.66 91.79H155.79V92.92H154.66zM159.17 91.79H160.3V92.92H159.17zM156.92 92.92H158.05V94.05H156.92zM161.43 92.92H162.56V94.05H161.43zM163.69 85.02H164.2V86.15H163.69zM163.69 87.28H164.2V88.41H163.69zM163.69 89.53H164.2V90.66H163.69zM163.69 91.79H164.2V92.92H163.69zM150.14 94.05H151.27V95.18H150.14zM148.26 95.18H149.02V96.31H148.26zM152.4 95.18H153.53V96.31H152.4zM150.14 96.31H151.27V97.44H150.14zM148.26 97.44H149.02V98.56H148.26zM152.4 97.44H153.53V98.56H152.4zM150.14 98.56H151.27V99.69H150.14zM148.26 99.69H149.02V100.82H148.26zM152.4 99.69H153.53V100.82H152.4zM150.14 100.82H151.27V101.95H150.14zM148.26 101.95H149.02V103.08H148.26zM152.4 101.95H153.53V103.08H152.4zM154.66 94.05H155.79V95.18H154.66zM159.17 94.05H160.3V95.18H159.17zM156.92 95.18H158.05V96.31H156.92zM161.43 95.18H162.56V96.31H161.43zM154.66 96.31H155.79V97.44H154.66zM159.17 96.31H160.3V97.44H159.17zM156.92 97.44H158.05V98.56H156.92zM161.43 97.44H162.56V98.56H161.43zM154.66 98.56H155.79V99.69H154.66zM159.17 98.56H160.3V99.69H159.17zM156.92 99.69H158.05V100.82H156.92zM161.43 99.69H162.56V100.82H161.43zM154.66 100.82H155.79V101.95H154.66zM159.17 100.82H160.3V101.95H159.17zM156.92 101.95H158.05V103.08H156.92zM161.43 101.95H162.56V103.08H161.43zM163.69 94.05H164.2V95.18H163.69zM163.69 96.31H164.2V97.44H163.69zM163.69 98.56H164.2V99.69H163.69zM163.69 100.82H164.2V101.95H163.69zM150.14 103.08H151.27V104.21H150.14zM148.26 104.21H149.02V105.34H148.26zM152.4 104.21H153.53V105.34H152.4zM150.14 105.34H151.27V106.47H150.14zM148.26 106.47H149.02V107.59H148.26zM152.4 106.47H153.53V107.59H152.4zM150.14 107.59H151.27V108.72H150.14zM148.26 108.72H149.02V109.85H148.26zM152.4 108.72H153.53V109.85H152.4zM150.14 109.85H151.27V110.98H150.14zM148.26 110.98H149.02V112.11H148.26zM152.4 110.98H153.53V112.11H152.4zM154.66 103.08H155.79V104.21H154.66zM159.17 103.08H160.3V104.21H159.17zM156.92 104.21H158.05V105.34H156.92zM161.43 104.21H162.56V105.34H161.43zM154.66 105.34H155.79V106.47H154.66zM159.17 105.34H160.3V106.47H159.17zM156.92 106.47H158.05V107.59H156.92zM161.43 106.47H162.56V107.59H161.43zM154.66 107.59H155.79V108.72H154.66zM159.17 107.59H160.3V108.72H159.17zM156.92 108.72H158.05V109.85H156.92zM161.43 108.72H162.56V109.85H161.43zM154.66 109.85H155.79V110.98H154.66zM159.17 109.85H160.3V110.98H159.17zM156.92 110.98H158.05V112.11H156.92zM161.43 110.98H162.56V112.11H161.43zM163.69 103.08H164.2V104.21H163.69zM163.69 105.34H164.2V106.47H163.69zM163.69 107.59H164.2V108.72H163.69zM163.69 109.85H164.2V110.98H163.69zM150.14 112.11H151.27V113.24H150.14zM148.26 113.24H149.02V114.37H148.26zM152.4 113.24H153.53V114.37H152.4zM150.14 114.37H151.27V115.5H150.14zM148.26 115.5H149.02V116.62H148.26zM152.4 115.5H153.53V116.62H152.4zM150.14 116.62H151.27V117.75H150.14zM148.26 117.75H149.02V118.88H148.26zM152.4 117.75H153.53V118.88H152.4zM150.14 118.88H151.27V120.01H150.14zM148.26 120.01H149.02V121.14H148.26zM152.4 120.01H153.53V121.14H152.4zM154.66 112.11H155.79V113.24H154.66zM159.17 112.11H160.3V113.24H159.17zM156.92 113.24H158.05V114.37H156.92zM161.43 113.24H162.56V114.37H161.43zM154.66 114.37H155.79V115.5H154.66zM159.17 114.37H160.3V115.5H159.17zM156.92 115.5H158.05V116.62H156.92zM161.43 115.5H162.56V116.62H161.43zM154.66 116.62H155.79V117.75H154.66zM159.17 116.62H160.3V117.75H159.17zM156.92 117.75H158.05V118.88H156.92zM161.43 117.75H162.56V118.88H161.43zM154.66 118.88H155.79V120.01H154.66zM159.17 118.88H160.3V120.01H159.17zM156.92 120.01H158.05V121.14H156.92zM161.43 120.01H162.56V121.14H161.43zM163.69 112.11H164.2V113.24H163.69zM163.69 114.37H164.2V115.5H163.69zM163.69 116.62H164.2V117.75H163.69zM163.69 118.88H164.2V120.01H163.69zM150.14 121.14H151.27V122.27H150.14zM148.26 122.27H149.02V123.4H148.26zM152.4 122.27H153.53V123.4H152.4zM150.14 123.4H151.27V124.53H150.14zM148.26 124.53H149.02V125.65H148.26zM152.4 124.53H153.53V125.65H152.4zM150.14 125.65H151.27V126.78H150.14zM148.26 126.78H149.02V127.91H148.26zM152.4 126.78H153.53V127.91H152.4zM150.14 127.91H151.27V129.04H150.14zM148.26 129.04H149.02V130.17H148.26zM152.4 129.04H153.53V130.17H152.4zM154.66 121.14H155.79V122.27H154.66zM159.17 121.14H160.3V122.27H159.17zM156.92 122.27H158.05V123.4H156.92zM161.43 122.27H162.56V123.4H161.43zM154.66 123.4H155.79V124.53H154.66zM159.17 123.4H160.3V124.53H159.17zM156.92 124.53H158.05V125.65H156.92zM161.43 124.53H162.56V125.65H161.43zM154.66 125.65H155.79V126.78H154.66zM159.17 125.65H160.3V126.78H159.17zM156.92 126.78H158.05V127.91H156.92zM161.43 126.78H162.56V127.91H161.43zM154.66 127.91H155.79V129.04H154.66zM159.17 127.91H160.3V129.04H159.17zM156.92 129.04H158.05V130.17H156.92zM161.43 129.04H162.56V130.17H161.43zM163.69 121.14H164.2V122.27H163.69zM163.69 123.4H164.2V124.53H163.69zM163.69 125.65H164.2V126.78H163.69zM163.69 127.91H164.2V129.04H163.69zM150.14 130.17H151.27V131.3H150.14zM148.26 131.3H149.02V132.43H148.26zM152.4 131.3H153.53V132.43H152.4zM150.14 132.43H151.27V133.56H150.14zM148.26 133.56H149.02V134.69H148.26zM152.4 133.56H153.53V134.69H152.4zM150.14 134.69H151.27V135.81H150.14zM148.26 135.81H149.02V136.94H148.26zM152.4 135.81H153.53V136.94H152.4zM150.14 136.94H151.27V138.07H150.14zM148.26 138.07H149.02V139.2H148.26zM152.4 138.07H153.53V139.2H152.4zM154.66 130.17H155.79V131.3H154.66zM159.17 130.17H160.3V131.3H159.17zM156.92 131.3H158.05V132.43H156.92zM161.43 131.3H162.56V132.43H161.43zM154.66 132.43H155.79V133.56H154.66zM159.17 132.43H160.3V133.56H159.17zM156.92 133.56H158.05V134.69H156.92zM161.43 133.56H162.56V134.69H161.43zM154.66 134.69H155.79V135.81H154.66zM159.17 134.69H160.3V135.81H159.17zM156.92 135.81H158.05V136.94H156.92zM161.43 135.81H162.56V136.94H161.43zM154.66 136.94H155.79V138.07H154.66zM159.17 136.94H160.3V138.07H159.17zM156.92 138.07H158.05V139.2H156.92zM161.43 138.07H162.56V139.2H161.43zM163.69 130.17H164.2V131.3H163.69zM163.69 132.43H164.2V133.56H163.69zM163.69 134.69H164.2V135.81H163.69zM163.69 136.94H164.2V138.07H163.69zM150.14 139.2H151.27V140.33H150.14zM148.26 140.33H149.02V141.46H148.26zM152.4 140.33H153.53V141.46H152.4zM150.14 141.46H151.27V142.59H150.14zM148.26 142.59H149.02V143.72H148.26zM152.4 142.59H153.53V143.72H152.4zM150.14 143.72H151.27V144.84H150.14zM148.26 144.84H149.02V145.97H148.26zM152.4 144.84H153.53V145.97H152.4zM150.14 145.97H151.27V147.1H150.14zM148.26 147.1H149.02V148.23H148.26zM152.4 147.1H153.53V148.23H152.4zM154.66 139.2H155.79V140.33H154.66zM159.17 139.2H160.3V140.33H159.17zM156.92 140.33H158.05V141.46H156.92zM161.43 140.33H162.56V141.46H161.43zM154.66 141.46H155.79V142.59H154.66zM159.17 141.46H160.3V142.59H159.17zM156.92 142.59H158.05V143.72H156.92zM161.43 142.59H162.56V143.72H161.43zM154.66 143.72H155.79V144.84H154.66zM159.17 143.72H160.3V144.84H159.17zM156.92 144.84H158.05V145.97H156.92zM161.43 144.84H162.56V145.97H161.43zM154.66 145.97H155.79V147.1H154.66zM159.17 145.97H160.3V147.1H159.17zM156.92 147.1H158.05V148.23H156.92zM161.43 147.1H162.56V148.23H161.43zM163.69 139.2H164.2V140.33H163.69zM163.69 141.46H164.2V142.59H163.69zM163.69 143.72H164.2V144.84H163.69zM163.69 145.97H164.2V147.1H163.69zM150.14 148.23H151.27V149.36H150.14zM148.26 149.36H149.02V150.49H148.26zM152.4 149.36H153.53V150.49H152.4zM150.14 150.49H151.27V151.62H150.14zM148.26 151.62H149.02V152.74H148.26zM152.4 151.62H153.53V152.74H152.4zM150.14 152.74H151.27V153.87H150.14zM148.26 153.87H149.02V155H148.26zM152.4 153.87H153.53V155H152.4zM150.14 155H151.27V156.13H150.14zM148.26 156.13H149.02V157.26H148.26zM152.4 156.13H153.53V157.26H152.4zM154.66 148.23H155.79V149.36H154.66zM159.17 148.23H160.3V149.36H159.17zM156.92 149.36H158.05V150.49H156.92zM161.43 149.36H162.56V150.49H161.43zM154.66 150.49H155.79V151.62H154.66zM159.17 150.49H160.3V151.62H159.17zM156.92 151.62H158.05V152.74H156.92zM161.43 151.62H162.56V152.74H161.43zM154.66 152.74H155.79V153.87H154.66zM159.17 152.74H160.3V153.87H159.17zM156.92 153.87H158.05V155H156.92zM161.43 153.87H162.56V155H161.43zM154.66 155H155.79V156.13H154.66zM159.17 155H160.3V156.13H159.17zM156.92 156.13H158.05V157.26H156.92zM161.43 156.13H162.56V157.26H161.43zM163.69 148.23H164.2V149.36H163.69zM163.69 150.49H164.2V151.62H163.69zM163.69 152.74H164.2V153.87H163.69zM163.69 155H164.2V156.13H163.69zM150.14 157.26H151.27V158.39H150.14zM148.26 158.39H149.02V159.52H148.26zM152.4 158.39H153.53V159.52H152.4zM150.14 159.52H151.27V160.65H150.14zM148.26 160.65H149.02V161.77H148.26zM152.4 160.65H153.53V161.77H152.4zM150.14 161.77H151.27V162.9H150.14zM148.26 162.9H149.02V164.03H148.26zM152.4 162.9H153.53V164.03H152.4zM150.14 164.03H151.27V165.16H150.14zM148.26 165.16H149.02V166.29H148.26zM152.4 165.16H153.53V166.29H152.4zM154.66 157.26H155.79V158.39H154.66zM159.17 157.26H160.3V158.39H159.17zM156.92 158.39H158.05V159.52H156.92zM161.43 158.39H162.56V159.52H161.43zM154.66 159.52H155.79V160.65H154.66zM159.17 159.52H160.3V160.65H159.17zM156.92 160.65H158.05V161.77H156.92zM161.43 160.65H162.56V161.77H161.43zM154.66 161.77H155.79V162.9H154.66zM159.17 161.77H160.3V162.9H159.17zM156.92 162.9H158.05V164.03H156.92zM161.43 162.9H162.56V164.03H161.43zM154.66 164.03H155.79V165.16H154.66zM159.17 164.03H160.3V165.16H159.17zM156.92 165.16H158.05V166.29H156.92zM161.43 165.16H162.56V166.29H161.43zM163.69 157.26H164.2V158.39H163.69zM163.69 159.52H164.2V160.65H163.69zM163.69 161.77H164.2V162.9H163.69zM163.69 164.03H164.2V165.16H163.69zM150.14 166.29H151.27V167.42H150.14zM148.26 167.42H149.02V168.55H148.26zM152.4 167.42H153.53V168.55H152.4zM150.14 168.55H151.27V169.68H150.14zM148.26 169.68H149.02V170.8H148.26zM152.4 169.68H153.53V170.8H152.4zM150.14 170.8H151.27V171.93H150.14zM148.26 171.93H149.02V173.06H148.26zM152.4 171.93H153.53V173.06H152.4zM150.14 173.06H151.27V174.19H150.14zM148.26 174.19H149.02V175.32H148.26zM152.4 174.19H153.53V175.32H152.4zM154.66 166.29H155.79V167.42H154.66zM159.17 166.29H160.3V167.42H159.17zM156.92 167.42H158.05V168.55H156.92zM161.43 167.42H162.56V168.55H161.43zM154.66 168.55H155.79V169.68H154.66zM159.17 168.55H160.3V169.68H159.17zM156.92 169.68H158.05V170.8H156.92zM161.43 169.68H162.56V170.8H161.43zM154.66 170.8H155.79V171.93H154.66zM159.17 170.8H160.3V171.93H159.17zM156.92 171.93H158.05V173.06H156.92zM161.43 171.93H162.56V173.06H161.43zM154.66 173.06H155.79V174.19H154.66zM159.17 173.06H160.3V174.19H159.17zM156.92 174.19H158.05V175.32H156.92zM161.43 174.19H162.56V175.32H161.43zM163.69 166.29H164.2V167.42H163.69zM163.69 168.55H164.2V169.68H163.69zM163.69 170.8H164.2V171.93H163.69zM163.69 173.06H164.2V174.19H163.69zM150.14 175.32H151.27V176.45H150.14zM148.26 176.45H149.02V177.58H148.26zM152.4 176.45H153.53V177.58H152.4zM150.14 177.58H151.27V178.71H150.14zM148.26 178.71H149.02V179.83H148.26zM152.4 178.71H153.53V179.83H152.4zM150.14 179.83H151.27V180.96H150.14zM148.26 180.96H149.02V182.09H148.26zM152.4 180.96H153.53V182.09H152.4zM150.14 182.09H151.27V183.22H150.14zM148.26 183.22H149.02V184.35H148.26zM152.4 183.22H153.53V184.35H152.4zM154.66 175.32H155.79V176.45H154.66zM159.17 175.32H160.3V176.45H159.17zM156.92 176.45H158.05V177.58H156.92zM161.43 176.45H162.56V177.58H161.43zM154.66 177.58H155.79V178.71H154.66zM159.17 177.58H160.3V178.71H159.17zM156.92 178.71H158.05V179.83H156.92zM161.43 178.71H162.56V179.83H161.43zM154.66 179.83H155.79V180.96H154.66zM159.17 179.83H160.3V180.96H159.17zM156.92 180.96H158.05V182.09H156.92zM161.43 180.96H162.56V182.09H161.43zM154.66 182.09H155.79V183.22H154.66zM159.17 182.09H160.3V183.22H159.17zM156.92 183.22H158.05V184.35H156.92zM161.43 183.22H162.56V184.35H161.43zM163.69 175.32H164.2V176.45H163.69zM163.69 177.58H164.2V178.71H163.69zM163.69 179.83H164.2V180.96H163.69zM163.69 182.09H164.2V183.22H163.69zM150.14 184.35H151.27V185.48H150.14zM148.26 185.48H149.02V186.61H148.26zM152.4 185.48H153.53V186.61H152.4zM150.14 186.61H151.27V187.74H150.14zM148.26 187.74H149.02V188.86H148.26zM152.4 187.74H153.53V188.86H152.4zM150.14 188.86H151.27V189.99H150.14zM148.26 189.99H149.02V191.12H148.26zM152.4 189.99H153.53V191.12H152.4zM150.14 191.12H151.27V192.25H150.14zM148.26 192.25H149.02V193.38H148.26zM152.4 192.25H153.53V193.38H152.4zM154.66 184.35H155.79V185.48H154.66zM159.17 184.35H160.3V185.48H159.17zM156.92 185.48H158.05V186.61H156.92zM161.43 185.48H162.56V186.61H161.43zM154.66 186.61H155.79V187.74H154.66zM159.17 186.61H160.3V187.74H159.17zM156.92 187.74H158.05V188.86H156.92zM161.43 187.74H162.56V188.86H161.43zM154.66 188.86H155.79V189.99H154.66zM159.17 188.86H160.3V189.99H159.17zM156.92 189.99H158.05V191.12H156.92zM161.43 189.99H162.56V191.12H161.43zM154.66 191.12H155.79V192.25H154.66zM159.17 191.12H160.3V192.25H159.17zM156.92 192.25H158.05V193.38H156.92zM161.43 192.25H162.56V193.38H161.43zM163.69 184.35H164.2V185.48H163.69zM163.69 186.61H164.2V187.74H163.69zM163.69 188.86H164.2V189.99H163.69zM163.69 191.12H164.2V192.25H163.69zM150.14 193.38H151.27V194.51H150.14zM148.26 194.51H149.02V195.64H148.26zM152.4 194.51H153.53V195.64H152.4zM150.14 195.64H151.27V196.77H150.14zM148.26 196.77H149.02V197.89H148.26zM152.4 196.77H153.53V197.89H152.4zM150.14 197.89H151.27V199.02H150.14zM148.26 199.02H149.02V200.15H148.26zM152.4 199.02H153.53V200.15H152.4zM150.14 200.15H151.27V201.28H150.14zM148.26 201.28H149.02V202.41H148.26zM152.4 201.28H153.53V202.41H152.4zM154.66 193.38H155.79V194.51H154.66zM159.17 193.38H160.3V194.51H159.17zM156.92 194.51H158.05V195.64H156.92zM161.43 194.51H162.56V195.64H161.43zM154.66 195.64H155.79V196.77H154.66zM159.17 195.64H160.3V196.77H159.17zM156.92 196.77H158.05V197.89H156.92zM161.43 196.77H162.56V197.89H161.43zM154.66 197.89H155.79V199.02H154.66zM159.17 197.89H160.3V199.02H159.17zM156.92 199.02H158.05V200.15H156.92zM161.43 199.02H162.56V200.15H161.43zM154.66 200.15H155.79V201.28H154.66zM159.17 200.15H160.3V201.28H159.17zM156.92 201.28H158.05V202.41H156.92zM161.43 201.28H162.56V202.41H161.43zM163.69 193.38H164.2V194.51H163.69zM163.69 195.64H164.2V196.77H163.69zM163.69 197.89H164.2V199.02H163.69zM163.69 200.15H164.2V201.28H163.69zM150.14 202.41H151.27V203.54H150.14zM148.26 203.54H149.02V204.67H148.26zM152.4 203.54H153.53V204.67H152.4zM150.14 204.67H151.27V205.8H150.14zM148.26 205.8H149.02V206.92H148.26zM152.4 205.8H153.53V206.92H152.4zM150.14 206.92H151.27V208.05H150.14zM148.26 208.05H149.02V208.2H148.26zM152.4 208.05H153.53V208.2H152.4zM154.66 202.41H155.79V203.54H154.66zM159.17 202.41H160.3V203.54H159.17zM156.92 203.54H158.05V204.67H156.92zM161.43 203.54H162.56V204.67H161.43zM154.66 204.67H155.79V205.8H154.66zM159.17 204.67H160.3V205.8H159.17zM156.92 205.8H158.05V206.92H156.92zM161.43 205.8H162.56V206.92H161.43zM154.66 206.92H155.79V208.05H154.66zM159.17 206.92H160.3V208.05H159.17zM156.92 208.05H158.05V208.2H156.92zM161.43 208.05H162.56V208.2H161.43zM163.69 202.41H164.2V203.54H163.69zM163.69 204.67H164.2V205.8H163.69zM163.69 206.92H164.2V208.05H163.69z"/>
<rect x="244.5" y="204" width="15.9" height="4.2" fill="#000"/>
<rect x="260.4" y="190.5" width="15.9" height="17.7" fill="#c0c0c0"/>
<rect x="276.3" y="148.5" width="15.9" height="59.7" fill="#fff"/><path fill="#000" d="M276.71 148.5H277.84V149.36H276.71zM278.97 148.5H280.1V149.36H278.97zM276.3 149.36H276.71V150.49H276.3zM277.84 149.36H278.97V150.49H277.84zM280.1 149.36H281.23V150.49H280.1zM276.71 150.49H277.84V151.62H276.71zM278.97 150.49H280.1V151.62H278.97zM276.3 151.62H276.71V157.26H276.3zM277.84 151.62H278.97V152.74H277.84zM280.1 151.62H281.23V152.74H280.1zM281.23 148.5H282.36V149.36H281.23zM283.49 148.5H284.62V149.36H283.49zM285.75 148.5H286.87V149.36H285.75zM288 148.5H289.13V149.36H288zM282.36 149.36H283.49V150.49H282.36zM284.62 149.36H285.75V150.49H284.62zM286.87 149.36H288V150.49H286.87zM289.13 149.36H290.26V150.49H289.13zM281.23 150.49H282.36V151.62H281.23zM283.49 150.49H284.62V151.62H283.49zM285.75 150.49H286.87V151.62H285.75zM288 150.49H289.13V151.62H288zM282.36 151.62H283.49V157.26H282.36zM284.62 151.62H285.75V157.26H284.62zM286.87 151.62H288V152.74H286.87zM289.13 151.62H290.26V152.74H289.13zM281.23 152.74H282.36V157.26H281.23zM283.49 152.74H284.62V157.26H283.49zM290.26 148.5H291.39V149.36H290.26zM291.39 149.36H292.2V150.49H291.39zM290.26 150.49H291.39V151.62H290.26zM291.39 151.62H292.2V157.26H291.39zM290.26 152.74H291.39V157.26H290.26zM276.71 157.26H277.84V158.39H276.71zM278.97 157.26H280.1V158.39H278.97zM276.3 158.39H276.71V159.52H276.3zM277.84 158.39H278.97V159.52H277.84zM280.1 158.39H281.23V159.52H280.1zM276.71 159.52H277.84V160.65H276.71zM278.97 159.52H280.1V160.65H278.97zM276.3 160.65H276.71V166.29H276.3zM277.84 160.65H278.97V161.77H277.84zM280.1 160.65H281.23V161.77H280.1zM281.23 157.26H282.36V158.39H281.23zM283.49 157.26H284.62V158.39H283.49zM285.75 157.26H286.87V158.39H285.75zM288 157.26H289.13V158.39H288zM282.36 158.39H283.49V159.52H282.36zM284.62 158.39H285.75V159.52H284.62zM286.87 158.39H288V159.52H286.87zM289.13 158.39H290.26V159.52H289.13zM281.23 159.52H282.36V160.65H281.23zM283.49 159.52H284.62V160.65H283.49zM285.75 159.52H286.87V160.65H285.75zM288 159.52H289.13V160.65H288zM282.36 160.65H283.49V166.29H282.36zM284.62 160.65H285.75V166.29H284.62zM286.87 160.65H288V161.77H286.87zM289.13 160.65H290.26V161.77H289.13zM281.23 161.77H282.36V166.29H281.23zM283.49 161.77H284.62V166.29H283.49zM290.26 157.26H291.39V158.39H290.26zM291.39 158.39H292.2V159.52H291.39zM290.26 159.52H291.39V160.65H290.26zM291.39 160.65H292.2V166.29H291.39zM290.26 161.77H291.39V166.29H290.26zM276.71 166.29H277.84V167.42H276.71zM278.97 166.29H280.1V167.42H278.97zM276.3 167.42H276.71V168.55H276.3zM277.84 167.42H278.97V168.55H277.84zM280.1 167.42H281.23V168.55H280.1zM276.71 168.55H277.84V169.68H276.71zM278.97 168.55H280.1V169.68H278.97zM276.3 169.68H276.71V175.32H276.3zM277.84 169.68H278.97V170.8H277.84zM280.1 169.68H281.23V170.8H280.1zM281.23 166.29H282.36V167.42H281.23zM283.49 166.29H284.62V167.42H283.49zM285.75 166.29H286.87V167.42H285.75zM288 166.29H289.13V167.42H288zM282.36 167.42H283.49V168.55H282.36zM284.62 167.42H285.75V168.55H284.62zM286.87 167.42H288V168.55H286.87zM289.13 167.42H290.26V168.55H289.13zM281.23 168.55H282.36V169.68H281.23zM283.49 168.55H284.62V169.68H283.49zM285.75 168.55H286.87V169.68H285.75zM288 168.55H289.13V169.68H288zM282.36 169.68H283.49V175.32H282.36zM284.62 169.68H285.75V175.32H284.62zM286.87 169.68H288V170.8H286.87zM289.13 169.68H290.26V170.8H289.13zM281.23 170.8H282.36V175.32H281.23zM283.49 170.8H284.62V175.32H283.49zM290.26 166.29H291.39V167.42H290.26zM291.39 167.42H292.2V168.55H291.39zM290.26 168.55H291.39V169.68H290.26zM291.39 169.68H292.2V175.32H291.39zM290.26 170.8H291.39V175.32H290.26zM276.71 175.32H277.84V176.45H276.71zM278.97 175.32H280.1V176.45H278.97zM276.3 176.45H276.71V177.58H276.3zM277.84 176.45H278.97V177.58H277.84zM280.1 176.45H281.23V177.58H280.1zM276.71 177.58H277.84V178.71H276.71zM278.97 177.58H280.1V178.71H278.97zM276.3 178.71H276.71V184.35H276.3zM277.84 178.71H278.97V179.83H277.84zM280.1 178.71H281.23V179.83H280.1zM281.23 175.32H282.36V176.45H281.23zM283.49 175.32H284.62V176.45H283.49zM285.75 175.32H286.87V176.45H285.75zM288 175.32H289.13V176.45H288zM282.36 176.45H283.49V177.58H282.36zM284.62 176.45H285.75V177.58H284.62zM286.87 176.45H288V177.58H286.87zM289.13 176.45H290.26V177.58H289.13zM281.23 177.58H282.36V178.71H281.23zM283.49 177.58H284.62V178.71H283.49zM285.75 177.58H286.87V178.71H285.75zM288 177.58H289.13V178.71H288zM282.36 178.71H283.49V184.35H282.36zM284.62 178.71H285.75V184.35H284.62zM286.87 178.71H288V179.83H286.87zM289.13 178.71H290.26V179.83H289.13zM281.23 179.83H282.36V184.35H281.23zM283.49 179.83H284.62V184.35H283.49zM290.26 175.32H291.39V176.45H290.26zM291.39 176.45H292.2V177.58H291.39zM290.26 177.58H291.39V178.71H290.26zM291.39 178.71H292.2V184.35H291.39zM290.26 179.83H291.39V184.35H290.26zM276.71 184.35H277.84V185.48H276.71zM278.97 184.35H280.1V185.48H278.97zM276.3 185.48H276.71V186.61H276.3zM277.84 185.48H278.97V186.61H277.84zM280.1 185.48H281.23V186.61H280.1zM276.71 186.61H277.84V187.74H276.71zM278.97 186.61H280.1V187.74H278.97zM276.3 187.74H276.71V193.38H276.3zM277.84 187.74H278.97V188.86H277.84zM280.1 187.74H281.23V188.86H280.1zM281.23 184.35H282.36V185.48H281.23zM283.49 184.35H284.62V185.48H283.49zM285.75 184.35H286.87V185.48H285.75zM288 184.35H289.13V185.48H288zM282.36 185.48H283.49V186.61H282.36zM284.62 185.48H285.75V186.61H284.62zM286.87 185.48H288V186.61H286.87zM289.13 185.48H290.26V186.61H289.13zM281.23 186.61H282.36V187.74H281.23zM283.49 186.61H284.62V187.74H283.49zM285.75 186.61H286.87V187.74H285.75zM288 186.61H289.13V187.74H288zM282.36 187.74H283.49V193.38H282.36zM284.62 187.74H285.75V193.38H284.62zM286.87 187.74H288V188.86H286.87zM289.13 187.74H290.26V188.86H289.13zM281.23 188.86H282.36V193.38H281.23zM283.49 188.86H284.62V193.38H283.49zM290.26 184.35H291.39V185.48H290.26zM291.39 185.48H292.2V186.61H291.39zM290.26 186.61H291.39V187.74H290.26zM291.39 187.74H292.2V193.38H291.39zM290.26 188.86H291.39V193.38H290.26zM276.71 193.38H277.84V194.51H276.71zM278.97 193.38H280.1V194.51H278.97zM276.3 194.51H276.71V195.64H276.3zM277.84 194.51H278.97V195.64H277.84zM280.1 194.51H281.23V195.64H280.1zM276.71 195.64H277.84V196.77H276.71zM278.97 195.64H280.1V196.77H278.97zM276.3 196.77H276.71V202.41H276.3zM277.84 196.77H278.97V197.89H277.84zM280.1 196.77H281.23V197.89H280.1zM281.23 193.38H282.36V194.51H281.23zM283.49 193.38H284.62V194.51H283.49zM285.75 193.38H286.87V194.51H285.75zM288 193.38H289.13V194.51H288zM282.36 194.51H283.49V195.64H282.36zM284.62 194.51H285.75V195.64H284.62zM286.87 194.51H288V195.64H286.87zM289.13 194.51H290.26V195.64H289.13zM281.23 195.64H282.36V196.77H281.23zM283.49 195.64H284.62V196.77H283.49zM285.75 195.64H286.87V196.77H285.75zM288 195.64H289.13V196.77H288zM282.36 196.77H283.49V202.41H282.36zM284.62 196.77H285.75V202.41H284.62zM286.87 196.77H288V197.89H286.87zM289.13 196.77H290.26V197.89H289.13zM281.23 197.89H282.36V202.41H281.23zM283.49 197.89H284.62V202.41H283.49zM290.26 193.38H291.39V194.51H290.26zM291.39 194.51H292.2V195.64H291.39zM290.26 195.64H291.39V196.77H290.26zM291.39 196.77H292.2V202.41H291.39zM290.26 197.89H291.39V202.41H290.26zM276.71 202.41H277.84V203.54H276.71zM278.97 202.41H280.1V203.54H278.97zM276.3 203.54H276.71V204.67H276.3zM277.84 203.54H278.97V204.67H277.84zM280.1 203.54H281.23V204.67H280.1zM276.71 204.67H277.84V205.8H276.71zM278.97 204.67H280.1V205.8H278.97zM276.3 205.8H276.71V208.2H276.3zM277.84 205.8H278.97V206.92H277.84zM280.1 205.8H281.23V206.92H280.1zM281.23 202.41H282.36V203.54H281.23zM283.49 202.41H284.62V203.54H283.49zM285.75 202.41H286.87V203.54H285.75zM288 202.41H289.13V203.54H288zM282.36 203.54H283.49V204.67H282.36zM284.62 203.54H285.75V204.67H284.62zM286.87 203.54H288V204.67H286.87zM289.13 203.54H290.26V204.67H289.13zM281.23 204.67H282.36V205.8H281.23zM283.49 204.67H284.62V205.8H283.49zM285.75 204.67H286.87V205.8H285.75zM288 204.67H289.13V205.8H288zM282.36 205.8H283.49V208.2H282.36zM284.62 205.8H285.75V208.2H284.62zM286.87 205.8H288V206.92H286.87zM289.13 205.8H290.26V206.92H289.13zM281.23 206.92H282.36V208.2H281.23zM283.49 206.92H284.62V208.2H283.49zM290.26 202.41H291.39V203.54H290.26zM291.39 203.54H292.2V204.67H291.39zM290.26 204.67H291.39V205.8H290.26zM291.39 205.8H292.2V208.2H291.39zM290.26 206.92H291.39V208.2H290.26z"/>
<rect x="292.2" y="111.2" width="15.9" height="97" fill="#fff"/><path fill="#000" d="M292.2 112.11H294.77V113.24H292.2zM294.77 116.62H299.29V117.75H294.77zM299.29 112.11H303.81V113.24H299.29zM303.81 116.62H308.1V117.75H303.81zM292.2 121.14H294.77V122.27H292.2zM294.77 125.65H299.29V126.78H294.77zM299.29 121.14H303.81V122.27H299.29zM303.81 125.65H308.1V126.78H303.81zM292.2 130.17H294.77V131.3H292.2zM294.77 134.69H299.29V135.81H294.77zM299.29 130.17H303.81V131.3H299.29zM303.81 134.69H308.1V135.81H303.81zM292.2 139.2H294.77V140.33H292.2zM294.77 143.72H299.29V144.84H294.77zM299.29 139.2H303.81V140.33H299.29zM303.81 143.72H308.1V144.84H303.81zM292.2 148.23H294.77V149.36H292.2zM294.77 152.74H299.29V153.87H294.77zM299.29 148.23H303.81V149.36H299.29zM303.81 152.74H308.1V153.87H303.81zM292.2 157.26H294.77V158.39H292.2zM294.77 161.77H299.29V162.9H294.77zM299.29 157.26H303.81V158.39H299.29zM303.81 161.77H308.1V162.9H303.81zM292.2 166.29H294.77V167.42H292.2zM294.77 170.8H299.29V171.93H294.77zM299.29 166.29H303.81V167.42H299.29zM303.81 170.8H308.1V171.93H303.81zM292.2 175.32H294.77V176.45H292.2zM294.77 179.83H299.29V180.96H294.77zM299.29 175.32H303.81V176.45H299.29zM303.81 179.83H308.1V180.96H303.81zM292.2 184.35H294.77V185.48H292.2zM294.77 188.86H299.29V189.99H294.77zM299.29 184.35H303.81V185.48H299.29zM303.81 188.86H308.1V189.99H303.81zM292.2 193.38H294.77V194.51H292.2zM294.77 197.89H299.29V199.02H294.77zM299.29 193.38H303.81V194.51H299.29zM303.81 197.89H308.1V199.02H303.81zM292.2 202.41H294.77V203.54H292.2zM294.77 206.92H299.29V208.05H294.77zM299.29 202.41H303.81V203.54H299.29zM303.81 206.92H308.1V208.05H303.81z"/>
<rect x="308.1" y="102.6" width="15.9" height="105.6" fill="#000"/><path fill="#fff" d="M310.43 102.6H311.56V103.08H310.43zM314.94 102.6H316.07V103.08H314.94zM319.46 102.6H320.59V103.08H319.46zM323.97 102.6H324V103.08H323.97zM308.17 103.08H309.3V104.21H308.17zM312.68 103.08H313.81V104.21H312.68zM310.43 104.21H311.56V105.34H310.43zM314.94 104.21H316.07V105.34H314.94zM308.17 105.34H309.3V106.47H308.17zM312.68 105.34H313.81V106.47H312.68zM310.43 106.47H311.56V107.59H310.43zM314.94 106.47H316.07V107.59H314.94zM308.17 107.59H309.3V108.72H308.17zM312.68 107.59H313.81V108.72H312.68zM310.43 108.72H311.56V109.85H310.43zM314.94 108.72H316.07V109.85H314.94zM308.17 109.85H309.3V110.98H308.17zM312.68 109.85H313.81V110.98H312.68zM310.43 110.98H311.56V112.11H310.43zM314.94 110.98H316.07V112.11H314.94zM317.2 103.08H318.33V104.21H317.2zM321.71 103.08H322.84V104.21H321.71zM319.46 104.21H320.59V105.34H319.46zM323.97 104.21H324V105.34H323.97zM317.2 105.34H318.33V106.47H317.2zM321.71 105.34H322.84V106.47H321.71zM319.46 106.47H320.59V107.59H319.46zM323.97 106.47H324V107.59H323.97zM317.2 107.59H318.33V108.72H317.2zM321.71 107.59H322.84V108.72H321.71zM319.46 108.72H320.59V109.85H319.46zM323.97 108.72H324V109.85H323.97zM317.2 109.85H318.33V110.98H317.2zM321.71 109.85H322.84V110.98H321.71zM319.46 110.98H320.59V112.11H319.46zM323.97 110.98H324V112.11H323.97zM308.17 112.11H309.3V113.24H308.17zM312.68 112.11H313.81V113.24H312.68zM310.43 113.24H311.56V114.37H310.43zM314.94 113.24H316.07V114.37H314.94zM308.17 114.37H309.3V115.5H308.17zM312.68 114.37H313.81V115.5H312.68zM310.43 115.5H311.56V116.62H310.43zM314.94 115.5H316.07V116.62H314.94zM308.17 116.62H309.3V117.75H308.17zM312.68 116.62H313.81V117.75H312.68zM310.43 117.75H311.56V118.88H310.43zM314.94 117.75H316.07V118.88H314.94zM308.17 118.88H309.3V120.01H308.17zM312.68 118.88H313.81V120.01H312.68zM310.43 120.01H311.56V121.14H310.43zM314.94 120.01H316.07V121.14H314.94zM317.2 112.11H318.33V113.24H317.2zM321.71 112.11H322.84V113.24H321.71zM319.46 113.24H320.59V114.37H319.46zM323.97 113.24H324V114.37H323.97zM317.2 114.37H318.33V115.5H317.2zM321.71 114.37H322.84V115.5H321.71zM319.46 115.5H320.59V116.62H319.46zM323.97 115.5H324V116.62H323.97zM317.2 116.62H318.33V117.75H317.2zM321.71 116.62H322.84V117.75H321.71zM319.46 117.75H320.59V118.88H319.46zM323.97 117.75H324V118.88H323.97zM317.2 118.88H318.33V120.01H317.2zM321.71 118.88H322.84V120.01H321.71zM319.46 120.01H320.59V121.14H319.46zM323.97 120.01H324V121.14H323.97zM308.17 121.14H309.3V122.27H308.17zM312.68 121.14H313.81V122.27H312.68zM310.43 122.27H311.56V123.4H310.43zM314.94 122.27H316.07V123.4H314.94zM308.17 123.4H309.3V124.53H308.17zM312.68 123.4H313.81V124.53H312.68zM310.43 124.53H311.56V125.65H310.43zM314.94 124.53H316.07V125.65H314.94zM308.17 125.65H309.3V126.78H308.17zM312.68 125.65H313.81V126.78H312.68zM310.43 126.78H311.56V127.91H310.43zM314.94 126.78H316.07V127.91H314.94zM308.17 127.91H309.3V129.04H308.17zM312.68 127.91H313.81V129.04H312.68zM310.43 129.04H311.56V130.17H310.43zM314.94 129.04H316.07V130.17H314.94zM317.2 121.14H318.33V122.27H317.2zM321.71 121.14H322.84V122.27H321.71zM319.46 122.27H320.59V123.4H319.46zM323.97 122.27H324V123.4H323.97zM317.2 123.4H318.33V124.53H317.2zM321.71 123.4H322.84V124.53H321.71zM319.46 124.53H320.59V125.65H319.46zM323.97 124.53H324V125.65H323.97zM317.2 125.65H318.33V126.78H317.2zM321.71 125.65H322.84V126.78H321.71zM319.46 126.78H320.59V127.91H319.46zM323.97 126.78H324V127.91H323.97zM317.2 127.91H318.33V129.04H317.2zM321.71 127.91H322.84V129.04H321.71zM319.46 129.04H320.59V130.17H319.46zM323.97 129.04H324V130.17H323.97zM308.17 130.17H309.3V131.3H308.17zM312.68 130.17H313.81V131.3H312.68zM310.43 131.3H311.56V132.43H310.43zM314.94 131.3H316.07V132.43H314.94zM308.17 132.43H309.3V133.56H308.17zM312.68 132.43H313.81V133.56H312.68zM310.43 133.56H311.56V134.69H310.43zM314.94 133.56H316.07V134.69H314.94zM308.17 134.69H309.3V135.81H308.17zM312.68 134.69H313.81V135.81H312.68zM310.43 135.81H311.56V136.94H310.43zM314.94 135.81H316.07V136.94H314.94zM308.17 136.94H309.3V138.07H308.17zM312.68 136.94H313.81V138.07H312.68zM310.43 138.07H311.56V139.2H310.43zM314.94 138.07H316.07V139.2H314.94zM317.2 130.17H318.33V131.3H317.2zM321.71 130.17H322.84V131.3H321.71zM319.46 131.3H320.59V132.43H319.46zM323.97 131.3H324V132.43H323.97zM317.2 132.43H318.33V133.56H317.2zM321.71 132.43H322.84V133.56H321.71zM319.46 133.56H320.59V134.69H319.46zM323.97 133.56H324V134.69H323.97zM317.2 134.69H318.33V135.81H317.2zM321.71 134.69H322.84V135.81H321.71zM319.46 135.81H320.59V136.94H319.46zM323.97 135.81H324V136.94H323.97zM317.2 136.94H318.33V138.07H317.2zM321.71 136.94H322.84V138.07H321.71zM319.46 138.07H320.59V139.2H319.46zM323.97 138.07H324V139.2H323.97zM308.17 139.2H309.3V140.33H308.17zM312.68 139.2H313.81V140.33H312.68zM310.43 140.33H311.56V141.46H310.43zM314.94 140.33H316.07V141.46H314.94zM308.17 141.46H309.3V142.59H308.17zM312.68 141.46H313.81V142.59H312.68zM310.43 142.59H311.56V143.72H310.43zM314.94 142.59H316.07V143.72H314.94zM308.17 143.72H309.3V144.84H308.17zM312.68 143.72H313.81V144.84H312.68zM310.43 144.84H311.56V145.97H310.43zM314.94 144.84H316.07V145.97H314.94zM308.17 145.97H309.3V147.1H308.17zM312.68 145.97H313.81V147.1H312.68zM310.43 147.1H311.56V148.23H310.43zM314.94 147.1H316.07V148.23H314.94zM317.2 139.2H318.33V140.33H317.2zM321.71 139.2H322.84V140.33H321.71zM319.46 140.33H320.59V141.46H319.46zM323.97 140.33H324V141.46H323.97zM317.2 141.46H318.33V142.59H317.2zM321.71 141.46H322.84V142.59H321.71zM319.46 142.59H320.59V143.72H319.46zM323.97 142.59H324V143.72H323.97zM317.2 143.72H318.33V144.84H317.2zM321.71 143.72H322.84V144.84H321.71zM319.46 144.84H320.59V145.97H319.46zM323.97 144.84H324V145.97H323.97zM317.2 145.97H318.33V147.1H317.2zM321.71 145.97H322.84V147.1H321.71zM319.46 147.1H320.59V148.23H319.46zM323.97 147.1H324V148.23H323.97zM308.17 148.23H309.3V149.36H308.17zM312.68 148.23H313.81V149.36H312.68zM310.43 149.36H311.56V150.49H310.43zM314.94 149.36H316.07V150.49H314.94zM308.17 150.49H309.3V151.62H308.17zM312.68 150.49H313.81V151.62H312.68zM310.43 151.62H311.56V152.74H310.43zM314.94 151.62H316.07V152.74H314.94zM308.17 152.74H309.3V153.87H308.17zM312.68 152.74H313.81V153.87H312.68zM310.43 153.87H311.56V155H310.43zM314.94 153.87H316.07V155H314.94zM308.17 155H309.3V156.13H308.17zM312.68 155H313.81V156.13H312.68zM310.43 156.13H311.56V157.26H310.43zM314.94 156.13H316.07V157.26H314.94zM317.2 148.23H318.33V149.36H317.2zM321.71 148.23H322.84V149.36H321.71zM319.46 149.36H320.59V150.49H319.46zM323.97 149.36H324V150.49H323.97zM317.2 150.49H318.33V151.62H317.2zM321.71 150.49H322.84V151.62H321.71zM319.46 151.62H320.59V152.74H319.46zM323.97 151.62H324V152.74H323.97zM317.2 152.74H318.33V153.87H317.2zM321.71 152.74H322.84V153.87H321.71zM319.46 153.87H320.59V155H319.46zM323.97 153.87H324V155H323.97zM317.2 155H318.33V156.13H317.2zM321.71 155H322.84V156.13H321.71zM319.46 156.13H320.59V157.26H319.46zM323.97 156.13H324V157.26H323.97zM308.17 157.26H309.3V158.39H308.17zM312.68 157.26H313.81V158.39H312.68zM310.43 158.39H311.56V159.52H310.43zM314.94 158.39H316.07V159.52H314.94zM308.17 159.52H309.3V160.65H308.17zM312.68 159.52H313.81V160.65H312.68zM310.43 160.65H311.56V161.77H310.43zM314.94 160.65H316.07V161.77H314.94zM308.17 161.77H309.3V162.9H308.17zM312.68 161.77H313.81V162.9H312.68zM310.43 162.9H311.56V164.03H310.43zM314.94 162.9H316.07V164.03H314.94zM308.17 164.03H309.3V165.16H308.17zM312.68 164.03H313.81V165.16H312.68zM310.43 165.16H311.56V166.29H310.43zM314.94 165.16H316.07V166.29H314.94zM317.2 157.26H318.33V158.39H317.2zM321.71 157.26H322.84V158.39H321.71zM319.46 158.39H320.59V159.52H319.46zM323.97 158.39H324V159.52H323.97zM317.2 159.52H318.33V160.65H317.2zM321.71 159.52H322.84V160.65H321.71zM319.46 160.65H320.59V161.77H319.46zM323.97 160.65H324V161.77H323.97zM317.2 161.77H318.33V162.9H317.2zM321.71 161.77H322.84V162.9H321.71zM319.46 162.9H320.59V164.03H319.46zM323.97 162.9H324V164.03H323.97zM317.2 164.03H318.33V165.16H317.2zM321.71 164.03H322.84V165.16H321.71zM319.46 165.16H320.59V166.29H319.46zM323.97 165.16H324V166.29H323.97zM308.17 166.29H309.3V167.42H308.17zM312.68 166.29H313.81V167.42H312.68zM310.43 167.42H311.56V168.55H310.43zM314.94 167.42H316.07V168.55H314.94zM308.17 168.55H309.3V169.68H308.17zM312.68 168.55H313.81V169.68H312.68zM310.43 169.68H311.56V170.8H310.43zM314.94 169.68H316.07V170.8H314.94zM308.17 170.8H309.3V171.93H308.17zM312.68 170.8H313.81V171.93H312.68zM310.43 171.93H311.56V173.06H310.43zM314.94 171.93H316.07V173.06H314.94zM308.17 173.06H309.3V174.19H308.17zM312.68 173.06H313.81V174.19H312.68zM310.43 174.19H311.56V175.32H310.43zM314.94 174.19H316.07V175.32H314.94zM317.2 166.29H318.33V167.42H317.2zM321.71 166.29H322.84V167.42H321.71zM319.46 167.42H320.59V168.55H319.46zM323.97 167.42H324V168.55H323.97zM317.2 168.55H318.33V169.68H317.2zM321.71 168.55H322.84V169.68H321.71zM319.46 169.68H320.59V170.8H319.46zM323.97 169.68H324V170.8H323.97zM317.2 170.8H318.33V171.93H317.2zM321.71 170.8H322.84V171.93H321.71zM319.46 171.93H320.59V173.06H319.46zM323.97 171.93H324V173.06H323.97zM317.2 173.06H318.33V174.19H317.2zM321.71 173.06H322.84V174.19H321.71zM319.46 174.19H320.59V175.32H319.46zM323.97 174.19H324V175.32H323.97zM308.17 175.32H309.3V176.45H308.17zM312.68 175.32H313.81V176.45H312.68zM310.43 176.45H311.56V177.58H310.43zM314.94 176.45H316.07V177.58H314.94zM308.17 177.58H309.3V178.71H308.17zM312.68 177.58H313.81V178.71H312.68zM310.43 178.71H311.56V179.83H310.43zM314.94 178.71H316.07V179.83H314.94zM308.17 179.83H309.3V180.96H308.17zM312.68 179.83H313.81V180.96H312.68zM310.43 180.96H311.56V182.09H310.43zM314.94 180.96H316.07V182.09H314.94zM308.17 182.09H309.3V183.22H308.17zM312.68 182.09H313.81V183.22H312.68zM310.43 183.22H311.56V184.35H310.43zM314.94 183.22H316.07V184.35H314.94zM317.2 175.32H318.33V176.45H317.2zM321.71 175.32H322.84V176.45H321.71zM319.46 176.45H320.59V177.58H319.46zM323.97 176.45H324V177.58H323.97zM317.2 177.58H318.33V178.71H317.2zM321.71 177.58H322.84V178.71H321.71zM319.46 178.71H320.59V179.83H319.46zM323.97 178.71H324V179.83H323.97zM317.2 179.83H318.33V180.96H317.2zM321.71 179.83H322.84V180.96H321.71zM319.46 180.96H320.59V182.09H319.46zM323.97 180.96H324V182.09H323.97zM317.2 182.09H318.33V183.22H317.2zM321.71 182.09H322.84V183.22H321.71zM319.46 183.22H320.59V184.35H319.46zM323.97 183.22H324V184.35H323.97zM308.17 184.35H309.3V185.48H308.17zM312.68 184.35H313.81V185.48H312.68zM310.43 185.48H311.56V186.61H310.43zM314.94 185.48H316.07V186.61H314.94zM308.17 186.61H309.3V187.74H308.17zM312.68 186.61H313.81V187.74H312.68zM310.43 187.74H311.56V188.86H310.43zM314.94 187.74H316.07V188.86H314.94zM308.17 188.86H309.3V189.99H308.17zM312.68 188.86H313.81V189.99H312.68zM310.43 189.99H311.56V191.12H310.43zM314.94 189.99H316.07V191.12H314.94zM308.17 191.12H309.3V192.25H308.17zM312.68 191.12H313.81V192.25H312.68zM310.43 192.25H311.56V193.38H310.43zM314.94 192.25H316.07V193.38H314.94zM317.2 184.35H318.33V185.48H317.2zM321.71 184.35H322.84V185.48H321.71zM319.46 185.48H320.59V186.61H319.46zM323.97 185.48H324V186.61H323.97zM317.2 186.61H318.33V187.74H317.2zM321.71 186.61H322.84V187.74H321.71zM319.46 187.74H320.59V188.86H319.46zM323.97 187.74H324V188.86H323.97zM317.2 188.86H318.33V189.99H317.2zM321.71 188.86H322.84V189.99H321.71zM319.46 189.99H320.59V191.12H319.46zM323.97 189.99H324V191.12H323.97zM317.2 191.12H318.33V192.25H317.2zM321.71 191.12H322.84V192.25H321.71zM319.46 192.25H320.59V193.38H319.46zM323.97 192.25H324V193.38H323.97zM308.17 193.38H309.3V194.51H308.17zM312.68 193.38H313.81V194.51H312.68zM310.43 194.51H311.56V195.64H310.43zM314.94 194.51H316.07V195.64H314.94zM308.17 195.64H309.3V196.77H308.17zM312.68 195.64H313.81V196.77H312.68zM310.43 196.77H311.56V197.89H310.43zM314.94 196.77H316.07V197.89H314.94zM308.17 197.89H309.3V199.02H308.17zM312.68 197.89H313.81V199.02H312.68zM310.43 199.02H311.56V200.15H310.43zM314.94 199.02H316.07V200.15H314.94zM308.17 200.15H309.3V201.28H308.17zM312.68 200.15H313.81V201.28H312.68zM310.43 201.28H311.56V202.41H310.43zM314.94 201.28H316.07V202.41H314.94zM317.2 193.38H318.33V194.51H317.2zM321.71 193.38H322.84V194.51H321.71zM319.46 194.51H320.59V195.64H319.46zM323.97 194.51H324V195.64H323.97zM317.2 195.64H318.33V196.77H317.2zM321.71 195.64H322.84V196.77H321.71zM319.46 196.77H320.59V197.89H319.46zM323.97 196.77H324V197.89H323.97zM317.2 197.89H318.33V199.02H317.2zM321.71 197.89H322.84V199.02H321.71zM319.46 199.02H320.59V200.15H319.46zM323.97 199.02H324V200.15H323.97zM317.2 200.15H318.33V201.28H317.2zM321.71 200.15H322.84V201.28H321.71zM319.46 201.28H320.59V202.41H319.46zM323.97 201.28H324V202.41H323.97zM308.17 202.41H309.3V203.54H308.17zM312.68 202.41H313.81V203.54H312.68zM310.43 203.54H311.56V204.67H310.43zM314.94 203.54H316.07V204.67H314.94zM308.17 204.67H309.3V205.8H308.17zM312.68 204.67H313.81V205.8H312.68zM310.43 205.8H311.56V206.92H310.43zM314.94 205.8H316.07V206.92H314.94zM308.17 206.92H309.3V208.05H308.17zM312.68 206.92H313.81V208.05H312.68zM310.43 208.05H311.56V208.2H310.43zM314.94 208.05H316.07V208.2H314.94zM317.2 202.41H318.33V203.54H317.2zM321.71 202.41H322.84V203.54H321.71zM319.46 203.54H320.59V204.67H319.46zM323.97 203.54H324V204.67H323.97zM317.2 204.67H318.33V205.8H317.2zM321.71 204.67H322.84V205.8H321.71zM319.46 205.8H320.59V206.92H319.46zM323.97 205.8H324V206.92H323.97zM317.2 206.92H318.33V208.05H317.2zM321.71 206.92H322.84V208.05H321.71zM319.46 208.05H320.59V208.2H319.46zM323.97 208.05H324V208.2H323.97z"/>
<path d="M84.5 208.2V183.55H100.44V208.2M100.44 208.2V124.4H116.38V208.2M116.38 208.2V79.25H132.32V208.2M132.32 208.2V41.5H148.26V208.2M148.26 208.2V26.2H164.2V208.2M244.5 208.2V204H260.4V208.2M260.4 208.2V190.5H276.3V208.2M276.3 208.2V148.5H292.2V208.2M292.2 208.2V111.2H308.1V208.2M308.1 208.2V102.6H324V208.2" fill="none" stroke="#000" stroke-width="1.05"/>
<path d="M92.47 183.55V182.45M89.27 182.45H95.67M108.41 124.4V118.2M105.21 118.2H111.61M124.35 79.25V73.75M121.15 73.75H127.55M140.29 41.5V38.5M137.09 38.5H143.49M156.23 26.2V21.35M153.03 21.35H159.43M252.45 204V202.8M249.25 202.8H255.65M268.35 190.5V189.2M265.15 189.2H271.55M284.25 148.5V143.5M281.05 143.5H287.45M300.15 111.2V109.6M296.95 109.6H303.35M316.05 102.6V98.7M312.85 98.7H319.25" fill="none" stroke="#000" stroke-width="1.05"/>
<path d="M44.7 4.6V208.9M44 5.3H364.9M364.2 4.6V208.9M44 208.2H364.9" fill="none" stroke="#000" stroke-width="1.4"/>
<path d="M45 45.8H48.6M45 86.3H48.6M45 126.8H48.6M45 167.3H48.6" stroke="#000" stroke-width="1.05"/>
<g font-size="12" text-anchor="end" fill="#2b2b2b">
<text transform="translate(36.9 10.00) scale(0.9 1)">100</text>
<text transform="translate(36.9 50.50) scale(0.9 1)">80</text>
<text transform="translate(36.9 91.00) scale(0.9 1)">60</text>
<text transform="translate(36.9 131.50) scale(0.9 1)">40</text>
<text transform="translate(36.9 172.00) scale(0.9 1)">20</text>
<text transform="translate(36.9 212.50) scale(0.9 1)">0</text>
</g>
<text font-size="13.2" fill="#000" stroke="#000" stroke-width="0.15" transform="translate(11,109.5) rotate(-90)" text-anchor="middle">Mycorrhizal colonization (%)</text>
<g font-size="11.75" fill="#000">
<text x="86.6" y="224.5">Sandy loam soil</text>
<text x="253.2" y="224.5">Gypseous soil</text>
</g>
<rect x="132.6" y="239.1" width="6.7" height="6.9" fill="#000"/>
<rect x="154.6" y="239.1" width="6.7" height="6.9" fill="#c0c0c0"/>
<rect x="176.6" y="239.1" width="6.7" height="6.9" fill="#fff"/><path fill="#000" d="M177.38 239.1H178.51V239.66H177.38zM179.64 239.1H180.77V239.66H179.64zM176.6 239.66H177.38V240.79H176.6zM178.51 239.66H179.64V240.79H178.51zM180.77 239.66H181.9V240.79H180.77zM177.38 240.79H178.51V241.92H177.38zM179.64 240.79H180.77V241.92H179.64zM176.6 241.92H177.38V246H176.6zM178.51 241.92H179.64V243.04H178.51zM180.77 241.92H181.9V243.04H180.77zM181.9 239.1H183.03V239.66H181.9zM183.03 239.66H183.3V240.79H183.03zM181.9 240.79H183.03V241.92H181.9zM183.03 241.92H183.3V246H183.03zM181.9 243.04H183.03V246H181.9z"/>
<rect x="198.6" y="239.1" width="6.7" height="6.9" fill="#fff"/><path fill="#000" d="M198.6 243.04H199.96V244.17H198.6zM199.96 239.1H204.47V239.66H199.96zM204.47 243.04H205.3V244.17H204.47z"/>
<rect x="220.6" y="239.1" width="6.7" height="6.9" fill="#000"/><path fill="#fff" d="M222.94 239.1H224.07V239.66H222.94zM220.69 239.66H221.82V240.79H220.69zM225.2 239.66H226.33V240.79H225.2zM222.94 240.79H224.07V241.92H222.94zM220.69 241.92H221.82V243.04H220.69zM225.2 241.92H226.33V243.04H225.2zM222.94 243.04H224.07V244.17H222.94zM220.69 244.17H221.82V245.3H220.69zM225.2 244.17H226.33V245.3H225.2zM222.94 245.3H224.07V246H222.94z"/>
<path d="M132.6 239.1h6.7v6.9h-6.7zM154.6 239.1h6.7v6.9h-6.7zM176.6 239.1h6.7v6.9h-6.7zM198.6 239.1h6.7v6.9h-6.7zM220.6 239.1h6.7v6.9h-6.7z" fill="none" stroke="#000" stroke-width="1.4"/>
<g font-size="12" fill="#2b2b2b">
<text x="144.5" y="246.5">1</text>
<text x="166" y="246.5">2</text>
<text x="188" y="246.5">3</text>
<text x="210" y="246.5">4</text>
<text x="232" y="246.5">5 months</text>
</g>
</svg>
</body></html>
